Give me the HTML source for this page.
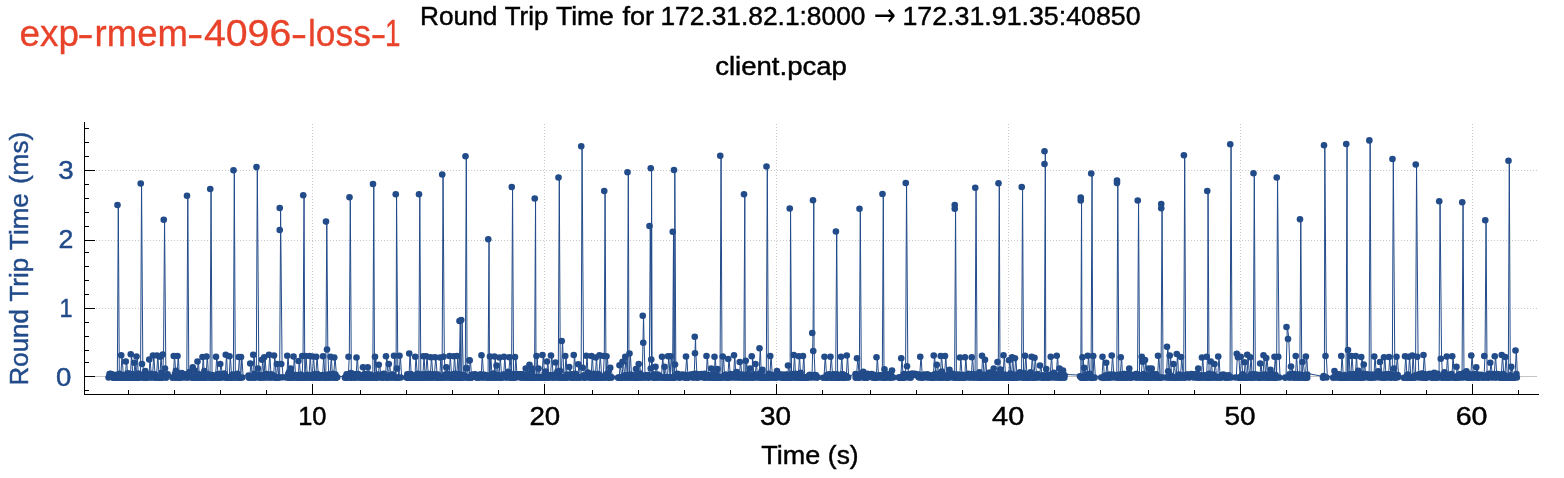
<!DOCTYPE html><html><head><meta charset="utf-8"><title>Round Trip Time</title>
<style>html,body{margin:0;padding:0;background:#fff}svg{display:block}text{font-family:"Liberation Sans",sans-serif}</style></head><body>
<svg width="1564" height="478" viewBox="0 0 1564 478">
<rect width="1564" height="478" fill="#fff"/>
<g shape-rendering="crispEdges" stroke="#c8c8c8" stroke-width="1" stroke-dasharray="1 2">
<line x1="96" y1="170.5" x2="1537" y2="170.5"/>
<line x1="96" y1="240.5" x2="1537" y2="240.5"/>
<line x1="96" y1="308.5" x2="1537" y2="308.5"/>
<line x1="312.5" y1="124" x2="312.5" y2="394"/>
<line x1="544.5" y1="124" x2="544.5" y2="394"/>
<line x1="776.5" y1="124" x2="776.5" y2="394"/>
<line x1="1008.5" y1="124" x2="1008.5" y2="394"/>
<line x1="1240.5" y1="124" x2="1240.5" y2="394"/>
<line x1="1472.5" y1="124" x2="1472.5" y2="394"/>
</g>
<line x1="95" y1="376.5" x2="1537" y2="376.5" stroke="#c4c4c4" stroke-width="1" shape-rendering="crispEdges"/>
<polyline fill="none" stroke="#224b8a" stroke-width="1" stroke-linejoin="round" points="109.40,376.56 110.34,373.14 111.22,372.91 112.08,374.51 112.97,373.25 113.85,376.73 114.79,376.51 115.61,376.38 116.55,376.42 117.30,376.62 117.36,373.89 118.30,204.00 119.30,376.69 119.72,373.71 120.51,372.81 120.75,376.49 122.05,354.25 123.35,376.72 123.69,376.70 124.49,376.47 125.25,376.54 125.41,373.86 126.55,360.50 127.85,376.60 127.93,376.72 128.73,372.40 129.58,373.05 130.25,376.73 130.38,376.63 131.55,353.25 132.85,376.55 132.99,373.03 133.74,376.40 133.75,376.74 135.05,361.75 136.00,376.72 136.35,376.58 136.38,376.55 137.30,355.50 138.23,372.85 138.60,376.71 139.03,376.67 139.89,372.91 140.55,376.58 141.55,182.50 142.80,363.00 143.80,376.42 144.26,376.36 144.75,376.70 145.06,373.44 146.05,370.00 147.35,376.66 147.45,373.34 148.22,376.49 148.75,376.50 149.09,374.20 150.05,358.50 151.35,376.37 151.52,372.87 152.40,373.74 152.50,376.52 153.80,354.50 154.94,374.05 155.10,376.59 155.69,373.39 156.50,376.36 156.52,376.42 157.80,354.50 159.01,376.54 159.10,376.73 159.75,376.41 159.90,376.35 161.05,355.75 162.35,376.63 162.44,371.80 162.55,376.69 163.55,353.50 164.55,218.75 165.80,367.50 166.80,376.70 167.59,374.26 168.39,373.40 173.25,376.63 174.55,355.00 175.80,373.01 175.85,376.42 176.70,369.82 177.00,376.68 178.30,355.00 179.24,374.54 179.60,376.52 180.12,376.56 180.94,376.75 181.75,376.27 182.52,372.14 183.34,373.12 184.18,376.51 185.00,374.25 185.83,374.55 186.66,373.22 186.80,376.49 187.80,194.75 188.80,376.60 188.94,374.14 189.83,373.99 190.64,370.83 191.44,374.03 192.25,376.37 192.25,376.53 193.55,366.25 194.85,376.72 195.00,376.63 195.84,369.75 196.67,376.54 197.00,376.73 198.30,360.50 199.24,373.27 199.60,376.67 200.15,373.51 200.97,376.57 201.88,376.65 202.00,376.48 203.30,356.00 204.34,376.47 204.60,376.58 205.15,369.97 206.00,376.62 206.10,376.71 207.30,355.50 208.60,376.52 208.61,374.18 209.45,373.39 210.05,376.57 211.05,188.00 212.05,376.63 212.15,376.33 212.96,373.93 213.85,376.63 214.65,376.31 215.50,376.43 215.52,376.55 216.80,355.75 218.10,376.47 218.11,373.42 219.06,376.51 219.75,376.65 219.98,372.95 221.05,363.00 222.32,376.26 222.35,376.52 223.18,373.93 224.11,374.13 225.01,372.46 225.25,376.54 226.55,353.75 227.55,376.68 227.85,376.40 228.34,376.45 229.00,376.46 229.22,376.74 230.30,355.25 231.60,376.63 231.71,376.65 232.62,374.49 233.30,376.36 233.39,373.61 234.30,169.25 235.30,376.70 235.82,373.86 236.62,376.27 237.44,373.96 238.25,376.58 238.27,372.81 239.55,356.00 240.50,376.69 240.78,376.75 240.85,376.45 241.80,356.00 243.10,376.55 249.33,374.44 249.75,376.73 251.05,362.50 252.35,376.48 252.66,376.49 252.75,376.44 254.05,353.75 255.21,372.86 255.35,376.52 256.00,376.28 256.30,376.40 257.30,166.00 258.80,367.50 259.80,376.62 260.32,373.48 261.23,376.36 261.50,376.47 262.80,358.75 263.75,376.52 263.78,374.27 264.10,376.51 265.05,356.25 266.25,374.38 266.35,376.57 267.05,372.98 267.81,373.24 268.50,376.41 268.57,374.39 269.80,353.75 271.10,376.37 271.18,376.54 272.04,373.41 272.88,374.56 273.50,376.56 273.76,374.18 274.80,354.50 276.10,376.48 276.41,376.51 276.50,376.73 277.80,363.00 278.79,376.53 279.10,376.47 279.55,376.49 279.64,376.43 280.55,229.00 280.55,207.00 282.05,363.00 283.05,376.35 286.75,376.42 288.05,354.75 289.09,373.13 289.35,376.64 289.88,371.23 290.25,376.60 291.55,367.50 292.53,372.92 292.85,376.48 293.00,376.74 293.30,376.37 294.30,355.50 295.60,376.57 295.81,374.34 296.66,374.23 297.47,374.03 298.00,376.68 298.22,376.67 299.30,360.00 300.60,376.70 300.98,376.36 301.75,373.45 302.05,376.73 303.05,355.00 304.05,194.25 304.75,376.70 305.05,376.44 306.05,355.00 307.35,376.65 307.87,373.89 308.78,376.25 309.00,376.59 310.30,355.00 311.37,374.28 311.60,376.40 312.25,376.72 312.27,376.34 313.55,355.50 314.85,376.57 314.89,373.41 315.70,376.73 315.75,376.53 317.05,355.75 318.19,372.99 318.35,376.40 318.97,376.42 319.72,376.57 320.50,376.64 321.36,374.23 322.24,374.36 322.50,376.42 323.80,355.25 324.75,376.43 325.10,376.40 325.68,373.88 325.80,376.64 326.80,220.60 327.80,348.50 328.80,376.58 328.97,376.43 329.81,373.28 330.00,376.61 331.30,355.75 332.30,373.87 332.60,376.40 333.10,376.36 333.75,376.37 333.85,372.91 335.05,356.50 336.29,373.45 336.35,376.69 337.20,376.60 338.02,376.31 345.76,376.63 346.52,376.38 347.41,373.32 348.21,373.82 348.30,376.68 349.30,355.75 350.30,196.25 351.30,376.66 351.65,372.11 352.58,376.62 353.38,372.90 354.28,376.31 355.09,376.30 355.97,373.40 356.00,376.66 357.30,356.50 358.60,376.56 358.68,373.06 359.51,373.57 360.33,376.44 361.09,374.34 361.85,376.29 362.50,376.51 362.67,376.74 363.80,366.25 365.10,376.64 365.19,373.27 365.95,373.95 366.87,373.00 367.25,376.75 367.63,372.95 368.55,366.25 369.85,376.58 370.13,376.73 371.05,373.46 371.97,374.08 372.74,376.37 372.80,376.60 373.80,183.00 374.50,376.37 374.80,376.52 375.80,355.75 376.73,376.39 377.10,376.47 377.55,376.27 378.25,376.54 378.40,373.49 379.55,363.75 380.83,373.98 380.85,376.50 381.72,374.21 382.64,376.34 383.43,376.65 384.33,372.79 385.18,373.17 385.50,376.48 386.80,355.25 388.10,376.73 388.25,376.39 388.55,376.28 389.55,363.00 390.85,376.44 391.04,374.40 391.92,376.36 392.81,373.47 393.50,376.40 393.63,373.89 394.80,354.75 395.55,376.59 396.10,376.43 396.55,193.25 397.80,367.50 398.80,376.59 399.00,376.71 400.30,354.75 401.60,376.50 407.31,376.59 408.09,373.41 408.75,376.73 408.99,376.53 410.05,352.50 411.35,376.72 411.53,373.01 412.33,376.60 413.22,374.32 414.00,376.59 414.75,376.67 414.86,376.59 416.05,355.75 417.35,376.69 417.49,376.27 418.26,372.83 418.80,376.61 419.80,193.25 420.80,376.73 420.90,376.43 421.67,376.56 422.43,373.18 422.75,376.75 424.05,355.25 425.04,374.34 425.35,376.69 425.75,376.71 425.91,373.27 427.05,355.25 428.35,376.60 428.55,373.84 429.34,373.02 430.25,373.07 430.25,376.74 431.55,356.25 432.85,376.40 432.85,376.44 433.62,373.19 434.50,376.50 434.51,374.15 435.80,356.25 437.06,373.38 437.10,376.69 438.00,376.42 438.91,373.72 439.50,376.65 439.85,376.48 440.80,356.50 442.05,376.60 442.10,376.61 443.05,173.50 444.30,355.75 445.30,376.70 445.75,376.41 445.82,373.68 447.05,366.25 448.35,376.35 448.47,372.89 449.00,376.56 449.26,373.89 450.30,355.00 451.60,376.56 451.89,376.72 452.69,374.58 453.25,376.72 453.53,373.34 454.55,355.25 455.85,376.71 455.94,372.91 456.50,376.61 456.80,376.35 457.80,355.00 459.00,376.42 459.10,376.64 459.20,373.14 460.30,320.00 460.75,376.74 461.60,376.69 462.05,319.00 463.35,376.37 463.52,376.43 464.43,373.76 465.24,374.37 465.30,376.54 466.30,155.25 467.05,367.50 467.30,367.00 468.30,376.69 468.70,376.62 469.00,376.53 470.30,359.50 470.30,359.25 471.60,376.74 471.97,376.63 472.78,373.83 473.66,373.95 474.59,374.50 475.51,373.19 476.29,373.46 477.04,376.27 477.92,376.70 478.70,376.36 479.52,376.30 480.43,376.30 481.00,376.54 481.30,373.40 482.30,354.25 483.60,376.36 484.05,376.40 484.91,373.81 485.84,374.12 486.63,376.50 487.39,374.34 488.05,376.40 489.05,238.25 489.50,376.65 490.05,376.47 490.80,355.50 492.10,376.60 492.54,373.59 493.42,373.93 494.00,376.68 494.26,372.56 495.30,355.50 496.00,376.54 496.60,376.44 497.30,364.50 498.53,374.01 498.60,376.44 499.00,376.62 500.30,356.50 501.60,376.66 502.10,376.39 502.98,376.32 503.50,376.43 503.80,373.65 504.80,355.75 506.10,376.36 506.33,373.60 507.25,376.34 508.08,374.11 508.75,376.41 508.93,370.71 510.05,356.25 511.35,376.43 511.47,376.46 511.55,376.42 512.55,186.00 513.55,376.45 514.01,373.01 514.50,376.66 514.87,376.60 515.80,356.00 517.10,376.54 517.34,373.42 518.25,373.50 519.12,373.35 519.99,374.22 520.88,373.23 521.65,376.73 522.55,373.42 523.38,373.18 524.24,376.60 525.07,376.53 525.25,376.61 526.55,367.50 527.65,374.53 527.85,376.74 528.42,373.56 529.00,376.74 529.36,374.57 530.30,363.75 531.60,376.64 531.75,376.65 531.99,371.28 533.05,367.50 534.35,376.47 534.47,376.67 534.55,376.37 535.55,197.50 536.00,376.38 536.55,376.57 537.30,355.00 538.00,376.37 538.60,376.35 539.30,367.50 540.27,376.74 540.60,376.60 541.17,376.38 541.95,376.36 542.00,376.66 543.30,354.00 544.60,376.66 544.66,376.44 545.55,372.92 546.36,370.50 546.50,376.67 547.80,360.50 548.74,374.46 549.10,376.67 549.55,374.30 550.48,374.49 550.50,376.50 551.80,354.50 553.00,374.34 553.10,376.39 553.91,376.43 554.79,373.91 555.00,376.41 556.30,361.50 557.54,374.07 557.60,376.56 558.30,376.49 558.30,370.55 559.30,176.50 560.30,376.43 560.91,370.14 561.25,376.72 562.55,340.00 563.85,376.49 564.35,376.41 564.75,376.39 566.05,355.00 567.06,376.75 567.35,376.44 567.86,373.54 568.75,376.45 568.78,374.52 570.05,366.00 571.35,376.56 571.53,374.11 572.45,373.37 573.25,376.68 573.38,376.71 574.55,354.00 575.85,376.43 575.94,372.92 576.74,373.38 577.58,376.62 577.75,376.62 579.05,363.25 580.23,376.35 580.35,376.43 581.05,376.36 581.14,376.46 582.05,145.25 583.55,366.75 584.55,376.59 584.69,374.26 585.48,376.40 585.75,376.59 587.05,354.75 588.00,374.33 588.35,376.37 588.76,371.60 589.53,373.18 590.31,373.98 591.00,376.46 591.16,376.73 592.30,355.00 593.60,376.68 593.88,374.13 594.79,372.90 595.25,376.70 596.55,356.50 597.55,376.73 597.85,376.69 598.34,376.71 599.00,376.39 599.10,373.03 600.30,354.25 601.60,376.43 601.81,376.45 602.64,376.27 603.30,376.69 604.30,355.00 605.05,190.00 606.00,376.36 606.05,376.42 606.12,373.89 607.30,355.25 608.60,376.49 608.69,372.09 609.45,376.57 609.75,376.61 611.05,366.75 612.23,376.36 612.35,376.53 619.00,376.70 619.21,376.45 620.30,364.25 621.60,376.74 621.70,376.69 622.00,376.36 623.30,360.75 624.60,376.49 624.75,376.54 624.90,374.58 626.05,355.75 627.30,376.58 627.34,374.20 627.35,376.38 628.30,171.25 629.00,376.42 629.20,374.35 629.30,376.40 630.30,352.50 631.60,376.67 631.75,373.47 632.59,376.34 633.43,374.34 634.23,376.39 635.09,376.31 635.50,376.65 635.89,374.32 636.80,368.00 638.10,376.63 638.25,376.65 638.43,376.50 639.55,363.00 640.85,376.52 640.95,372.62 641.88,374.22 642.25,376.65 643.55,314.75 644.05,341.75 645.12,376.25 645.35,376.58 646.07,374.42 646.88,374.50 647.77,376.26 648.53,373.99 649.30,376.70 649.31,376.33 650.30,225.00 651.55,367.50 651.55,167.25 652.05,358.50 653.05,376.39 653.51,374.35 654.30,373.32 655.00,376.61 655.09,376.71 656.30,365.75 657.60,376.57 657.61,376.44 658.50,373.55 659.29,376.38 660.13,374.50 661.04,376.33 661.50,376.52 662.80,355.75 664.00,376.58 664.10,376.39 665.30,365.75 666.26,376.66 666.60,376.38 667.18,376.67 667.50,376.55 668.80,355.25 670.00,376.54 670.10,376.54 671.30,355.25 672.55,376.57 672.60,376.74 673.55,230.75 673.80,376.75 674.55,376.68 674.80,169.00 675.80,363.50 676.80,376.43 677.38,373.25 678.14,372.88 678.99,373.65 679.85,376.27 680.64,376.70 681.44,374.55 682.21,374.25 682.97,373.56 683.82,374.41 684.75,374.52 685.50,376.68 685.52,373.70 686.80,355.50 687.93,376.45 688.10,376.56 688.85,376.46 689.75,376.34 690.69,373.84 691.61,373.89 692.55,373.99 693.34,376.53 694.25,376.46 694.29,372.96 695.55,335.75 695.80,352.25 696.88,372.88 697.10,376.53 697.82,376.54 698.70,376.48 699.46,373.69 700.22,376.27 701.12,373.46 702.03,373.01 702.79,374.12 703.68,376.48 704.61,374.15 705.46,372.89 706.00,376.62 706.27,376.43 707.30,355.00 708.60,376.54 708.86,374.12 709.70,374.33 710.47,376.60 710.75,376.53 712.05,367.50 713.35,376.44 713.68,373.09 714.00,376.71 715.30,355.75 716.30,376.39 716.60,376.53 717.00,376.65 717.14,373.50 718.30,368.00 719.59,376.49 719.60,376.64 720.05,376.44 721.05,154.75 722.04,376.32 722.05,376.55 722.25,376.53 723.55,355.50 724.55,376.26 724.85,376.45 725.35,374.31 726.12,373.81 726.88,373.81 727.75,376.39 727.78,376.64 729.05,358.00 730.35,376.57 730.40,376.57 731.28,373.07 732.20,373.27 733.10,373.74 733.50,376.50 734.80,354.25 735.83,376.31 736.10,376.55 736.58,373.55 737.43,370.97 738.26,373.03 739.13,376.52 739.25,376.55 740.55,361.00 741.68,373.60 741.85,376.47 742.50,376.36 743.42,373.80 743.80,376.57 744.80,193.25 745.25,376.56 745.80,376.54 746.55,359.75 747.53,376.29 747.85,376.37 748.35,373.09 749.29,376.54 749.50,376.47 750.80,367.50 751.25,376.37 752.10,376.40 752.55,355.25 753.85,376.65 754.38,373.63 755.00,376.53 755.33,373.67 756.30,363.00 757.60,376.37 757.87,373.97 758.81,373.65 759.00,376.41 760.30,347.25 761.23,373.57 761.60,376.70 762.00,376.70 762.16,371.24 763.30,368.75 764.60,376.57 764.82,376.48 765.73,376.59 766.30,376.72 767.30,165.50 768.30,376.65 768.44,376.30 769.33,372.82 769.75,376.72 771.05,355.00 772.35,376.48 772.68,373.69 773.47,376.43 774.34,376.25 775.22,376.54 776.13,376.40 776.50,376.44 776.88,376.33 777.80,370.00 779.10,376.39 779.42,373.60 780.22,373.64 781.17,373.86 781.94,376.37 782.72,376.66 783.57,373.50 784.48,376.74 785.39,376.39 786.21,376.62 786.98,373.55 787.50,376.69 787.80,373.91 788.80,364.50 789.55,376.49 790.10,376.46 790.55,207.50 791.55,376.69 792.13,374.15 792.89,373.06 793.25,376.40 794.55,354.00 795.55,376.45 795.85,376.36 796.49,372.89 797.29,373.31 798.08,376.31 798.25,376.66 799.55,355.25 800.64,376.57 800.85,376.37 801.42,371.87 802.29,376.48 802.50,376.59 803.80,355.00 804.71,376.34 805.10,376.56 805.53,376.65 806.33,376.73 807.22,376.67 808.11,376.62 809.02,376.53 809.94,374.31 810.76,373.92 811.70,376.27 812.05,376.35 813.05,332.00 813.80,199.25 814.05,350.00 814.97,374.13 815.05,376.42 815.90,373.94 816.70,374.22 817.62,376.49 818.48,376.36 824.00,376.69 825.30,355.75 826.60,376.58 826.86,376.47 827.68,374.07 828.45,376.64 829.22,374.09 830.00,376.54 830.05,373.21 831.30,355.75 832.60,376.61 832.68,376.74 833.56,373.97 834.40,373.34 835.20,373.97 835.70,376.67 836.70,230.50 837.63,373.28 837.70,376.62 838.52,376.73 839.31,376.60 840.13,376.59 840.50,376.46 841.80,355.75 842.71,373.31 843.10,376.74 843.51,373.37 844.33,376.33 845.24,376.73 846.16,374.51 846.25,376.53 847.55,354.50 848.64,376.29 848.85,376.57 856.35,372.93 856.50,376.74 857.80,357.25 859.05,373.78 859.10,376.62 859.30,376.50 860.30,207.75 861.30,376.55 861.54,372.93 862.32,374.52 863.21,374.13 864.07,370.76 864.93,376.72 865.75,374.24 866.56,376.40 867.44,376.63 868.30,372.92 869.12,376.31 869.89,374.00 870.81,373.23 871.59,373.52 872.43,373.10 873.21,376.57 874.00,376.61 874.79,373.79 875.56,376.52 876.00,376.72 876.38,376.71 877.30,356.25 878.60,376.36 878.98,376.39 879.93,374.40 880.78,374.26 881.64,376.29 882.30,376.43 883.30,193.00 884.00,376.71 884.30,376.36 884.33,374.15 885.30,368.25 886.60,376.64 886.66,373.09 887.47,376.43 888.39,374.30 889.30,373.26 890.11,376.34 890.92,376.47 891.50,376.73 891.75,374.17 892.80,369.50 894.10,376.44 899.62,376.60 900.49,376.41 900.75,376.64 902.05,357.25 903.05,376.73 903.35,376.70 903.89,376.39 904.64,373.06 905.55,374.09 905.55,376.58 906.55,182.00 907.80,365.25 908.80,376.39 908.93,373.40 909.85,374.30 910.66,373.59 911.48,376.71 912.29,372.85 913.22,372.85 914.17,373.14 914.93,373.50 915.74,372.88 916.58,374.06 917.40,374.55 918.19,373.79 918.96,373.93 919.75,376.42 919.82,373.65 921.05,355.75 922.29,376.31 922.35,376.65 923.15,376.32 923.95,376.48 924.75,373.60 925.55,374.40 926.40,374.46 927.23,376.53 928.15,373.31 929.05,376.25 929.95,376.33 930.78,376.27 931.64,374.35 932.54,376.63 933.25,376.69 933.37,376.45 934.55,354.50 935.85,376.38 935.86,373.00 936.25,376.52 937.55,363.75 938.52,373.03 938.85,376.47 939.31,373.99 940.21,373.11 940.25,376.71 941.55,355.00 942.71,370.49 942.85,376.73 943.47,374.42 944.33,374.40 944.50,376.47 945.80,355.00 946.95,376.53 947.10,376.58 947.86,374.40 948.62,376.35 949.00,376.72 950.30,368.75 951.60,376.37 951.96,374.34 952.89,373.36 953.80,372.76 954.55,376.50 954.62,376.50 955.55,207.75 955.55,204.00 956.45,376.66 956.55,376.43 957.36,373.89 958.21,376.33 959.04,373.50 959.50,376.72 959.80,376.64 960.80,356.50 962.10,376.41 962.36,376.57 963.20,373.90 964.02,376.46 964.50,376.72 964.84,376.52 965.80,356.25 967.10,376.40 967.33,374.11 968.13,374.13 968.99,372.88 969.94,376.47 970.85,373.21 971.25,376.57 972.55,356.25 973.85,376.61 974.23,373.03 975.05,376.53 976.05,186.75 977.05,376.38 977.77,373.68 978.64,376.47 979.48,376.58 980.29,371.26 981.11,376.63 981.50,376.64 982.80,354.75 984.10,376.70 984.39,373.80 984.50,376.54 985.80,358.75 986.84,376.60 987.10,376.65 987.66,373.61 988.59,376.29 989.46,376.66 990.33,371.66 991.23,373.04 991.99,372.98 992.80,376.74 993.25,376.71 993.58,376.40 994.55,367.50 995.85,376.69 996.00,373.04 996.88,376.38 997.30,376.73 998.30,361.00 999.30,182.25 1000.00,376.63 1000.30,376.67 1000.37,373.99 1001.30,368.50 1002.60,376.63 1002.79,373.45 1003.00,376.45 1004.30,354.25 1005.33,373.43 1005.60,376.63 1006.16,373.99 1006.92,374.52 1007.80,376.50 1008.50,376.55 1008.67,376.52 1009.80,359.25 1011.10,376.68 1011.22,372.62 1011.50,376.61 1012.80,356.25 1013.80,376.67 1014.10,376.74 1014.50,376.65 1014.58,374.44 1015.80,357.25 1017.10,376.74 1017.19,373.60 1018.07,374.00 1018.97,376.39 1019.87,374.04 1020.77,371.35 1021.55,376.46 1021.58,372.91 1022.55,186.00 1023.55,376.53 1023.95,373.21 1024.50,376.67 1024.77,372.07 1025.80,354.75 1027.10,376.56 1027.20,376.72 1028.05,374.27 1028.99,376.68 1029.77,372.94 1030.56,376.36 1031.00,376.38 1031.35,371.20 1032.30,355.75 1033.60,376.71 1033.96,374.02 1034.00,376.42 1035.30,356.75 1036.56,376.43 1036.60,376.58 1037.39,374.49 1038.25,372.95 1039.19,374.20 1039.50,376.55 1040.80,364.50 1042.10,376.42 1042.43,376.37 1043.31,376.25 1044.10,374.32 1044.30,376.59 1045.30,163.00 1045.30,150.25 1045.75,376.47 1046.30,376.55 1047.05,368.00 1048.35,376.36 1048.56,376.58 1049.41,374.31 1050.25,376.61 1050.30,373.78 1051.55,355.75 1052.85,376.42 1052.88,373.95 1053.79,374.27 1054.71,371.85 1055.47,376.26 1056.22,374.33 1056.25,376.47 1057.55,354.75 1058.67,374.44 1058.85,376.50 1059.00,376.59 1060.30,367.50 1061.31,372.84 1061.60,376.61 1062.07,376.35 1062.50,376.73 1063.80,369.50 1065.10,376.70 1065.36,374.41 1080.80,375.20 1081.55,199.50 1081.55,196.50 1082.00,376.45 1082.55,376.72 1083.30,356.25 1083.75,376.68 1084.60,376.65 1085.05,366.75 1086.35,376.72 1086.39,376.73 1087.24,373.60 1087.25,376.41 1088.55,354.75 1089.70,373.62 1089.85,376.40 1090.56,372.83 1091.05,376.48 1092.05,172.50 1092.75,376.65 1093.05,376.64 1094.05,355.00 1095.35,376.63 1102.00,376.57 1103.30,355.75 1104.25,376.63 1104.60,376.69 1105.04,376.33 1105.75,376.57 1105.94,374.51 1107.05,361.75 1108.35,376.64 1108.53,374.03 1109.47,376.38 1110.39,373.53 1111.25,376.37 1111.34,376.44 1112.55,354.50 1113.85,376.36 1113.96,373.65 1114.83,374.02 1115.70,374.20 1116.58,376.30 1116.80,376.53 1117.80,182.00 1117.80,179.50 1118.80,376.65 1119.17,374.20 1119.95,373.65 1120.25,376.36 1121.55,356.25 1122.57,376.66 1122.85,376.63 1123.49,373.45 1124.40,373.04 1125.16,373.10 1126.07,376.67 1126.87,376.57 1127.79,373.78 1128.55,372.81 1128.75,376.61 1130.05,367.50 1131.13,373.23 1131.35,376.75 1131.91,373.94 1132.76,376.56 1133.58,374.57 1134.37,374.50 1135.16,374.11 1135.97,376.33 1136.74,373.05 1137.53,373.17 1137.55,376.60 1138.55,199.50 1139.55,376.56 1139.99,373.94 1140.88,376.55 1141.25,376.55 1142.55,355.75 1143.30,360.75 1144.32,372.94 1144.50,376.55 1144.60,376.67 1145.80,359.00 1146.94,376.42 1147.10,376.75 1147.76,376.37 1148.25,376.64 1148.58,373.71 1149.55,367.50 1150.85,376.71 1151.17,373.77 1151.25,376.59 1152.55,367.50 1153.76,373.00 1153.85,376.73 1154.60,373.68 1155.52,373.27 1156.35,376.41 1157.21,373.21 1157.50,376.74 1158.80,354.75 1160.10,376.63 1160.45,376.71 1161.05,376.66 1162.05,207.25 1162.05,203.00 1163.05,376.52 1166.50,376.54 1167.80,345.75 1168.95,370.19 1169.10,376.45 1169.25,376.49 1170.55,354.50 1171.47,374.59 1171.85,376.46 1172.42,376.62 1173.00,376.40 1173.23,376.32 1174.30,363.00 1175.60,376.59 1175.78,376.60 1176.25,376.62 1177.55,353.00 1178.54,376.65 1178.85,376.36 1179.30,373.93 1180.14,373.55 1180.50,376.69 1181.80,356.00 1183.10,376.46 1183.60,374.51 1183.70,376.49 1184.70,154.25 1185.70,376.73 1186.10,374.02 1186.90,374.08 1187.80,373.53 1188.64,373.80 1189.56,376.53 1190.44,376.32 1191.20,374.28 1192.14,373.16 1192.99,373.39 1193.80,376.33 1194.58,374.23 1195.35,376.36 1196.29,373.41 1197.09,373.37 1197.75,376.42 1197.87,376.40 1199.05,367.50 1200.35,376.39 1200.35,376.46 1201.17,374.32 1201.50,376.50 1202.80,356.50 1203.83,376.35 1204.10,376.46 1204.78,374.54 1205.61,374.20 1206.46,376.52 1206.55,376.43 1207.55,355.75 1208.05,190.00 1209.05,376.69 1209.08,376.34 1209.86,372.81 1210.25,376.54 1211.55,360.50 1212.46,376.37 1212.85,376.55 1213.31,374.43 1214.00,376.42 1214.15,373.52 1215.30,363.00 1216.56,376.30 1216.60,376.43 1217.48,376.29 1217.75,376.42 1219.05,355.50 1220.05,376.28 1220.35,376.52 1220.93,376.58 1221.77,376.38 1222.55,374.06 1223.32,374.43 1224.18,373.53 1225.02,376.49 1225.79,374.36 1226.65,376.56 1227.54,376.67 1228.48,376.33 1229.40,374.33 1230.05,376.39 1231.05,143.25 1232.05,376.48 1236.25,376.47 1237.55,352.75 1238.80,356.25 1240.10,376.66 1240.13,376.69 1240.25,376.74 1241.55,355.75 1242.70,374.57 1242.85,376.70 1243.64,373.18 1244.00,376.61 1245.30,361.25 1246.60,376.71 1246.75,376.42 1247.09,376.62 1248.05,353.75 1249.35,376.53 1249.52,376.30 1249.75,376.50 1251.05,356.25 1251.95,373.19 1252.35,376.50 1252.85,376.63 1253.30,376.48 1254.30,172.25 1255.30,376.55 1255.42,373.35 1256.33,376.34 1257.18,374.58 1258.11,373.87 1258.88,376.38 1259.75,376.75 1259.77,376.58 1261.05,362.50 1262.13,376.26 1262.35,376.43 1263.00,376.45 1263.08,373.74 1264.30,354.25 1265.60,376.55 1265.75,376.54 1265.77,373.45 1267.05,357.00 1268.35,374.43 1268.35,376.49 1269.24,376.67 1270.00,376.72 1270.19,373.26 1271.30,368.75 1272.60,376.46 1272.82,373.26 1273.73,373.54 1274.00,376.65 1275.30,355.75 1276.39,374.06 1276.55,376.64 1276.60,376.72 1277.55,176.50 1279.05,355.75 1280.05,376.46 1286.00,376.67 1287.30,326.00 1288.80,338.00 1290.10,376.45 1290.26,373.19 1290.50,376.36 1291.80,365.50 1292.99,373.87 1293.10,376.55 1293.76,373.09 1294.57,373.09 1295.25,376.60 1295.48,376.51 1296.55,355.00 1297.85,376.56 1297.92,373.51 1298.76,376.64 1299.58,373.49 1299.80,376.48 1300.80,218.25 1301.80,376.44 1301.96,373.80 1302.00,376.50 1303.30,361.00 1304.53,374.53 1304.60,376.49 1305.38,376.72 1305.45,376.61 1306.67,355.50 1307.97,376.69 1308.00,373.50 1323.80,376.65 1324.40,375.10 1324.80,144.25 1326.30,355.00 1327.30,376.45 1334.00,376.63 1335.30,370.00 1336.35,373.38 1336.60,376.52 1337.28,373.95 1338.22,376.33 1339.11,373.79 1340.01,373.29 1340.75,376.75 1340.91,376.59 1342.05,355.00 1343.35,376.73 1343.56,376.46 1344.42,376.55 1345.32,374.09 1346.05,376.64 1347.05,143.00 1347.50,376.47 1348.05,376.48 1348.80,349.00 1350.10,376.48 1350.55,373.38 1350.75,376.63 1352.05,355.00 1353.21,374.10 1353.35,376.54 1353.99,373.11 1354.90,376.68 1355.25,376.56 1356.55,355.00 1357.46,374.29 1357.85,376.56 1358.28,376.60 1359.10,369.72 1359.89,376.28 1360.68,376.53 1360.75,376.70 1362.05,356.00 1363.08,372.87 1363.25,376.67 1363.35,376.39 1364.55,363.50 1365.61,373.09 1365.85,376.36 1366.49,374.03 1367.27,373.75 1368.13,373.25 1368.93,376.29 1369.15,376.38 1370.15,139.40 1371.15,376.74 1371.47,376.36 1372.23,373.58 1373.05,374.12 1373.75,376.57 1373.85,376.48 1375.05,355.50 1376.35,376.42 1376.47,374.40 1377.28,372.86 1378.16,373.21 1378.99,370.42 1379.50,376.36 1379.80,373.15 1380.80,361.00 1382.10,376.57 1382.34,373.66 1383.22,374.36 1383.50,376.64 1384.80,356.25 1386.10,376.67 1386.48,373.40 1387.35,373.57 1388.15,373.18 1388.50,376.37 1389.80,356.00 1390.74,373.70 1391.10,376.67 1391.67,373.26 1392.30,376.52 1393.30,158.00 1394.80,367.50 1395.80,376.69 1396.00,376.54 1396.05,373.50 1397.30,355.75 1398.49,374.11 1398.60,376.37 1404.50,376.70 1405.80,355.25 1406.98,376.75 1407.10,376.42 1407.86,376.61 1408.25,376.55 1408.62,373.60 1409.55,355.75 1410.85,376.40 1411.21,376.64 1411.75,376.47 1412.08,376.58 1413.05,354.50 1414.35,376.66 1414.65,376.33 1415.55,376.39 1415.56,374.55 1416.55,163.50 1418.05,355.75 1419.05,376.56 1419.67,373.30 1420.54,373.68 1421.40,376.32 1422.35,372.87 1423.00,376.74 1423.17,372.57 1424.30,354.00 1425.60,376.75 1425.63,373.32 1426.47,376.66 1427.30,376.65 1428.20,373.81 1428.99,374.25 1429.79,373.34 1430.74,372.89 1431.67,373.30 1432.43,376.74 1433.36,373.47 1434.16,376.67 1435.04,371.82 1435.79,376.57 1436.72,373.78 1437.50,376.67 1438.40,372.82 1439.05,376.55 1440.05,200.25 1441.55,357.75 1442.55,376.57 1442.78,376.47 1443.63,376.62 1444.38,373.32 1445.32,371.40 1446.22,373.14 1446.25,376.63 1447.55,355.50 1448.67,376.46 1448.85,376.69 1449.49,376.33 1450.40,374.52 1451.33,374.47 1451.75,376.61 1452.14,373.01 1453.05,355.25 1454.35,376.62 1454.66,376.30 1455.48,376.45 1456.00,376.41 1456.26,376.52 1457.30,365.75 1458.60,376.75 1458.90,374.48 1459.79,376.51 1460.62,373.32 1461.42,373.35 1462.05,376.45 1463.05,201.25 1463.97,374.49 1464.05,376.41 1464.77,372.07 1465.60,373.12 1466.48,374.53 1467.24,370.23 1468.00,376.63 1468.94,376.41 1469.87,372.95 1470.68,376.74 1470.75,376.70 1472.05,354.50 1473.29,374.26 1473.35,376.38 1474.21,376.49 1474.98,373.00 1475.75,376.46 1475.91,376.32 1477.05,366.25 1478.35,376.39 1478.54,373.53 1479.45,376.72 1480.30,376.55 1481.06,374.56 1481.97,373.78 1482.75,374.23 1483.58,376.26 1484.05,376.63 1485.05,355.00 1486.05,219.25 1487.05,376.60 1487.85,374.42 1488.67,376.37 1489.45,372.84 1489.75,376.59 1491.05,361.75 1492.35,376.35 1492.64,373.52 1493.50,373.87 1494.25,376.51 1494.37,372.95 1495.55,355.25 1496.85,376.61 1497.11,373.31 1497.86,373.07 1498.70,374.28 1499.64,373.33 1500.44,376.58 1501.25,376.58 1501.25,376.53 1502.55,354.00 1503.85,376.64 1504.02,373.09 1504.75,376.73 1504.97,374.11 1506.05,356.00 1507.35,376.71 1507.35,376.31 1508.29,376.36 1508.30,376.42 1509.30,159.75 1510.30,376.64 1510.75,376.38 1511.03,374.41 1512.05,365.75 1513.35,376.65 1513.63,376.48 1514.57,376.48 1515.00,376.64 1516.30,349.50 1517.25,372.96 1517.60,376.55"/>
<g fill="#224b8a">
<circle cx="108.60" cy="377.56" r="3.3"/>
<circle cx="109.54" cy="374.14" r="3.3"/>
<circle cx="110.42" cy="373.91" r="3.3"/>
<circle cx="111.28" cy="375.51" r="3.3"/>
<circle cx="112.17" cy="374.25" r="3.3"/>
<circle cx="113.05" cy="377.73" r="3.3"/>
<circle cx="113.99" cy="377.51" r="3.3"/>
<circle cx="114.81" cy="377.38" r="3.3"/>
<circle cx="115.75" cy="377.42" r="3.3"/>
<circle cx="116.50" cy="377.62" r="3.3"/>
<circle cx="116.56" cy="374.89" r="3.3"/>
<circle cx="117.50" cy="205.00" r="3.3"/>
<circle cx="118.50" cy="377.69" r="3.3"/>
<circle cx="118.92" cy="374.71" r="3.3"/>
<circle cx="119.71" cy="373.81" r="3.3"/>
<circle cx="119.95" cy="377.49" r="3.3"/>
<circle cx="121.25" cy="355.25" r="3.3"/>
<circle cx="122.55" cy="377.72" r="3.3"/>
<circle cx="122.89" cy="377.70" r="3.3"/>
<circle cx="123.69" cy="377.47" r="3.3"/>
<circle cx="124.45" cy="377.54" r="3.3"/>
<circle cx="124.61" cy="374.86" r="3.3"/>
<circle cx="125.75" cy="361.50" r="3.3"/>
<circle cx="127.05" cy="377.60" r="3.3"/>
<circle cx="127.13" cy="377.72" r="3.3"/>
<circle cx="127.93" cy="373.40" r="3.3"/>
<circle cx="128.78" cy="374.05" r="3.3"/>
<circle cx="129.45" cy="377.73" r="3.3"/>
<circle cx="129.58" cy="377.63" r="3.3"/>
<circle cx="130.75" cy="354.25" r="3.3"/>
<circle cx="132.05" cy="377.55" r="3.3"/>
<circle cx="132.19" cy="374.03" r="3.3"/>
<circle cx="132.94" cy="377.40" r="3.3"/>
<circle cx="132.95" cy="377.74" r="3.3"/>
<circle cx="134.25" cy="362.75" r="3.3"/>
<circle cx="135.20" cy="377.72" r="3.3"/>
<circle cx="135.55" cy="377.58" r="3.3"/>
<circle cx="135.58" cy="377.55" r="3.3"/>
<circle cx="136.50" cy="356.50" r="3.3"/>
<circle cx="137.43" cy="373.85" r="3.3"/>
<circle cx="137.80" cy="377.71" r="3.3"/>
<circle cx="138.23" cy="377.67" r="3.3"/>
<circle cx="139.09" cy="373.91" r="3.3"/>
<circle cx="139.75" cy="377.58" r="3.3"/>
<circle cx="140.75" cy="183.50" r="3.3"/>
<circle cx="142.00" cy="364.00" r="3.3"/>
<circle cx="143.00" cy="377.42" r="3.3"/>
<circle cx="143.46" cy="377.36" r="3.3"/>
<circle cx="143.95" cy="377.70" r="3.3"/>
<circle cx="144.26" cy="374.44" r="3.3"/>
<circle cx="145.25" cy="371.00" r="3.3"/>
<circle cx="146.55" cy="377.66" r="3.3"/>
<circle cx="146.65" cy="374.34" r="3.3"/>
<circle cx="147.42" cy="377.49" r="3.3"/>
<circle cx="147.95" cy="377.50" r="3.3"/>
<circle cx="148.29" cy="375.20" r="3.3"/>
<circle cx="149.25" cy="359.50" r="3.3"/>
<circle cx="150.55" cy="377.37" r="3.3"/>
<circle cx="150.72" cy="373.87" r="3.3"/>
<circle cx="151.60" cy="374.74" r="3.3"/>
<circle cx="151.70" cy="377.52" r="3.3"/>
<circle cx="153.00" cy="355.50" r="3.3"/>
<circle cx="154.14" cy="375.05" r="3.3"/>
<circle cx="154.30" cy="377.59" r="3.3"/>
<circle cx="154.89" cy="374.39" r="3.3"/>
<circle cx="155.70" cy="377.36" r="3.3"/>
<circle cx="155.72" cy="377.42" r="3.3"/>
<circle cx="157.00" cy="355.50" r="3.3"/>
<circle cx="158.21" cy="377.54" r="3.3"/>
<circle cx="158.30" cy="377.73" r="3.3"/>
<circle cx="158.95" cy="377.41" r="3.3"/>
<circle cx="159.10" cy="377.35" r="3.3"/>
<circle cx="160.25" cy="356.75" r="3.3"/>
<circle cx="161.55" cy="377.63" r="3.3"/>
<circle cx="161.64" cy="372.80" r="3.3"/>
<circle cx="161.75" cy="377.69" r="3.3"/>
<circle cx="162.75" cy="354.50" r="3.3"/>
<circle cx="163.75" cy="219.75" r="3.3"/>
<circle cx="165.00" cy="368.50" r="3.3"/>
<circle cx="166.00" cy="377.70" r="3.3"/>
<circle cx="166.79" cy="375.26" r="3.3"/>
<circle cx="167.59" cy="374.40" r="3.3"/>
<circle cx="172.45" cy="377.63" r="3.3"/>
<circle cx="173.75" cy="356.00" r="3.3"/>
<circle cx="175.00" cy="374.01" r="3.3"/>
<circle cx="175.05" cy="377.42" r="3.3"/>
<circle cx="175.90" cy="370.82" r="3.3"/>
<circle cx="176.20" cy="377.68" r="3.3"/>
<circle cx="177.50" cy="356.00" r="3.3"/>
<circle cx="178.44" cy="375.54" r="3.3"/>
<circle cx="178.80" cy="377.52" r="3.3"/>
<circle cx="179.32" cy="377.56" r="3.3"/>
<circle cx="180.14" cy="377.75" r="3.3"/>
<circle cx="180.95" cy="377.27" r="3.3"/>
<circle cx="181.72" cy="373.14" r="3.3"/>
<circle cx="182.54" cy="374.12" r="3.3"/>
<circle cx="183.38" cy="377.51" r="3.3"/>
<circle cx="184.20" cy="375.25" r="3.3"/>
<circle cx="185.03" cy="375.55" r="3.3"/>
<circle cx="185.86" cy="374.22" r="3.3"/>
<circle cx="186.00" cy="377.49" r="3.3"/>
<circle cx="187.00" cy="195.75" r="3.3"/>
<circle cx="188.00" cy="377.60" r="3.3"/>
<circle cx="188.14" cy="375.14" r="3.3"/>
<circle cx="189.03" cy="374.99" r="3.3"/>
<circle cx="189.84" cy="371.83" r="3.3"/>
<circle cx="190.64" cy="375.03" r="3.3"/>
<circle cx="191.45" cy="377.37" r="3.3"/>
<circle cx="191.45" cy="377.53" r="3.3"/>
<circle cx="192.75" cy="367.25" r="3.3"/>
<circle cx="194.05" cy="377.72" r="3.3"/>
<circle cx="194.20" cy="377.63" r="3.3"/>
<circle cx="195.04" cy="370.75" r="3.3"/>
<circle cx="195.87" cy="377.54" r="3.3"/>
<circle cx="196.20" cy="377.73" r="3.3"/>
<circle cx="197.50" cy="361.50" r="3.3"/>
<circle cx="198.44" cy="374.27" r="3.3"/>
<circle cx="198.80" cy="377.67" r="3.3"/>
<circle cx="199.35" cy="374.51" r="3.3"/>
<circle cx="200.17" cy="377.57" r="3.3"/>
<circle cx="201.08" cy="377.65" r="3.3"/>
<circle cx="201.20" cy="377.48" r="3.3"/>
<circle cx="202.50" cy="357.00" r="3.3"/>
<circle cx="203.54" cy="377.47" r="3.3"/>
<circle cx="203.80" cy="377.58" r="3.3"/>
<circle cx="204.35" cy="370.97" r="3.3"/>
<circle cx="205.20" cy="377.62" r="3.3"/>
<circle cx="205.30" cy="377.71" r="3.3"/>
<circle cx="206.50" cy="356.50" r="3.3"/>
<circle cx="207.80" cy="377.52" r="3.3"/>
<circle cx="207.81" cy="375.18" r="3.3"/>
<circle cx="208.65" cy="374.39" r="3.3"/>
<circle cx="209.25" cy="377.57" r="3.3"/>
<circle cx="210.25" cy="189.00" r="3.3"/>
<circle cx="211.25" cy="377.63" r="3.3"/>
<circle cx="211.35" cy="377.33" r="3.3"/>
<circle cx="212.16" cy="374.93" r="3.3"/>
<circle cx="213.05" cy="377.63" r="3.3"/>
<circle cx="213.85" cy="377.31" r="3.3"/>
<circle cx="214.70" cy="377.43" r="3.3"/>
<circle cx="214.72" cy="377.55" r="3.3"/>
<circle cx="216.00" cy="356.75" r="3.3"/>
<circle cx="217.30" cy="377.47" r="3.3"/>
<circle cx="217.31" cy="374.42" r="3.3"/>
<circle cx="218.26" cy="377.51" r="3.3"/>
<circle cx="218.95" cy="377.65" r="3.3"/>
<circle cx="219.18" cy="373.95" r="3.3"/>
<circle cx="220.25" cy="364.00" r="3.3"/>
<circle cx="221.52" cy="377.26" r="3.3"/>
<circle cx="221.55" cy="377.52" r="3.3"/>
<circle cx="222.38" cy="374.93" r="3.3"/>
<circle cx="223.31" cy="375.13" r="3.3"/>
<circle cx="224.21" cy="373.46" r="3.3"/>
<circle cx="224.45" cy="377.54" r="3.3"/>
<circle cx="225.75" cy="354.75" r="3.3"/>
<circle cx="226.75" cy="377.68" r="3.3"/>
<circle cx="227.05" cy="377.40" r="3.3"/>
<circle cx="227.54" cy="377.45" r="3.3"/>
<circle cx="228.20" cy="377.46" r="3.3"/>
<circle cx="228.42" cy="377.74" r="3.3"/>
<circle cx="229.50" cy="356.25" r="3.3"/>
<circle cx="230.80" cy="377.63" r="3.3"/>
<circle cx="230.91" cy="377.65" r="3.3"/>
<circle cx="231.82" cy="375.49" r="3.3"/>
<circle cx="232.50" cy="377.36" r="3.3"/>
<circle cx="232.59" cy="374.61" r="3.3"/>
<circle cx="233.50" cy="170.25" r="3.3"/>
<circle cx="234.50" cy="377.70" r="3.3"/>
<circle cx="235.02" cy="374.86" r="3.3"/>
<circle cx="235.82" cy="377.27" r="3.3"/>
<circle cx="236.64" cy="374.96" r="3.3"/>
<circle cx="237.45" cy="377.58" r="3.3"/>
<circle cx="237.47" cy="373.81" r="3.3"/>
<circle cx="238.75" cy="357.00" r="3.3"/>
<circle cx="239.70" cy="377.69" r="3.3"/>
<circle cx="239.98" cy="377.75" r="3.3"/>
<circle cx="240.05" cy="377.45" r="3.3"/>
<circle cx="241.00" cy="357.00" r="3.3"/>
<circle cx="242.30" cy="377.55" r="3.3"/>
<circle cx="248.53" cy="375.44" r="3.3"/>
<circle cx="248.95" cy="377.73" r="3.3"/>
<circle cx="250.25" cy="363.50" r="3.3"/>
<circle cx="251.55" cy="377.48" r="3.3"/>
<circle cx="251.86" cy="377.49" r="3.3"/>
<circle cx="251.95" cy="377.44" r="3.3"/>
<circle cx="253.25" cy="354.75" r="3.3"/>
<circle cx="254.41" cy="373.86" r="3.3"/>
<circle cx="254.55" cy="377.52" r="3.3"/>
<circle cx="255.20" cy="377.28" r="3.3"/>
<circle cx="255.50" cy="377.40" r="3.3"/>
<circle cx="256.50" cy="167.00" r="3.3"/>
<circle cx="258.00" cy="368.50" r="3.3"/>
<circle cx="259.00" cy="377.62" r="3.3"/>
<circle cx="259.52" cy="374.48" r="3.3"/>
<circle cx="260.43" cy="377.36" r="3.3"/>
<circle cx="260.70" cy="377.47" r="3.3"/>
<circle cx="262.00" cy="359.75" r="3.3"/>
<circle cx="262.95" cy="377.52" r="3.3"/>
<circle cx="262.98" cy="375.27" r="3.3"/>
<circle cx="263.30" cy="377.51" r="3.3"/>
<circle cx="264.25" cy="357.25" r="3.3"/>
<circle cx="265.45" cy="375.38" r="3.3"/>
<circle cx="265.55" cy="377.57" r="3.3"/>
<circle cx="266.25" cy="373.98" r="3.3"/>
<circle cx="267.01" cy="374.24" r="3.3"/>
<circle cx="267.70" cy="377.41" r="3.3"/>
<circle cx="267.77" cy="375.39" r="3.3"/>
<circle cx="269.00" cy="354.75" r="3.3"/>
<circle cx="270.30" cy="377.37" r="3.3"/>
<circle cx="270.38" cy="377.54" r="3.3"/>
<circle cx="271.24" cy="374.41" r="3.3"/>
<circle cx="272.08" cy="375.56" r="3.3"/>
<circle cx="272.70" cy="377.56" r="3.3"/>
<circle cx="272.96" cy="375.18" r="3.3"/>
<circle cx="274.00" cy="355.50" r="3.3"/>
<circle cx="275.30" cy="377.48" r="3.3"/>
<circle cx="275.61" cy="377.51" r="3.3"/>
<circle cx="275.70" cy="377.73" r="3.3"/>
<circle cx="277.00" cy="364.00" r="3.3"/>
<circle cx="277.99" cy="377.53" r="3.3"/>
<circle cx="278.30" cy="377.47" r="3.3"/>
<circle cx="278.75" cy="377.49" r="3.3"/>
<circle cx="278.84" cy="377.43" r="3.3"/>
<circle cx="279.75" cy="230.00" r="3.3"/>
<circle cx="279.75" cy="208.00" r="3.3"/>
<circle cx="281.25" cy="364.00" r="3.3"/>
<circle cx="282.25" cy="377.35" r="3.3"/>
<circle cx="285.95" cy="377.42" r="3.3"/>
<circle cx="287.25" cy="355.75" r="3.3"/>
<circle cx="288.29" cy="374.13" r="3.3"/>
<circle cx="288.55" cy="377.64" r="3.3"/>
<circle cx="289.08" cy="372.23" r="3.3"/>
<circle cx="289.45" cy="377.60" r="3.3"/>
<circle cx="290.75" cy="368.50" r="3.3"/>
<circle cx="291.73" cy="373.92" r="3.3"/>
<circle cx="292.05" cy="377.48" r="3.3"/>
<circle cx="292.20" cy="377.74" r="3.3"/>
<circle cx="292.50" cy="377.37" r="3.3"/>
<circle cx="293.50" cy="356.50" r="3.3"/>
<circle cx="294.80" cy="377.57" r="3.3"/>
<circle cx="295.01" cy="375.34" r="3.3"/>
<circle cx="295.86" cy="375.23" r="3.3"/>
<circle cx="296.67" cy="375.03" r="3.3"/>
<circle cx="297.20" cy="377.68" r="3.3"/>
<circle cx="297.42" cy="377.67" r="3.3"/>
<circle cx="298.50" cy="361.00" r="3.3"/>
<circle cx="299.80" cy="377.70" r="3.3"/>
<circle cx="300.18" cy="377.36" r="3.3"/>
<circle cx="300.95" cy="374.45" r="3.3"/>
<circle cx="301.25" cy="377.73" r="3.3"/>
<circle cx="302.25" cy="356.00" r="3.3"/>
<circle cx="303.25" cy="195.25" r="3.3"/>
<circle cx="303.95" cy="377.70" r="3.3"/>
<circle cx="304.25" cy="377.44" r="3.3"/>
<circle cx="305.25" cy="356.00" r="3.3"/>
<circle cx="306.55" cy="377.65" r="3.3"/>
<circle cx="307.07" cy="374.89" r="3.3"/>
<circle cx="307.98" cy="377.25" r="3.3"/>
<circle cx="308.20" cy="377.59" r="3.3"/>
<circle cx="309.50" cy="356.00" r="3.3"/>
<circle cx="310.57" cy="375.28" r="3.3"/>
<circle cx="310.80" cy="377.40" r="3.3"/>
<circle cx="311.45" cy="377.72" r="3.3"/>
<circle cx="311.47" cy="377.34" r="3.3"/>
<circle cx="312.75" cy="356.50" r="3.3"/>
<circle cx="314.05" cy="377.57" r="3.3"/>
<circle cx="314.09" cy="374.41" r="3.3"/>
<circle cx="314.90" cy="377.73" r="3.3"/>
<circle cx="314.95" cy="377.53" r="3.3"/>
<circle cx="316.25" cy="356.75" r="3.3"/>
<circle cx="317.39" cy="373.99" r="3.3"/>
<circle cx="317.55" cy="377.40" r="3.3"/>
<circle cx="318.17" cy="377.42" r="3.3"/>
<circle cx="318.92" cy="377.57" r="3.3"/>
<circle cx="319.70" cy="377.64" r="3.3"/>
<circle cx="320.56" cy="375.23" r="3.3"/>
<circle cx="321.44" cy="375.36" r="3.3"/>
<circle cx="321.70" cy="377.42" r="3.3"/>
<circle cx="323.00" cy="356.25" r="3.3"/>
<circle cx="323.95" cy="377.43" r="3.3"/>
<circle cx="324.30" cy="377.40" r="3.3"/>
<circle cx="324.88" cy="374.88" r="3.3"/>
<circle cx="325.00" cy="377.64" r="3.3"/>
<circle cx="326.00" cy="221.60" r="3.3"/>
<circle cx="327.00" cy="349.50" r="3.3"/>
<circle cx="328.00" cy="377.58" r="3.3"/>
<circle cx="328.17" cy="377.43" r="3.3"/>
<circle cx="329.01" cy="374.28" r="3.3"/>
<circle cx="329.20" cy="377.61" r="3.3"/>
<circle cx="330.50" cy="356.75" r="3.3"/>
<circle cx="331.50" cy="374.87" r="3.3"/>
<circle cx="331.80" cy="377.40" r="3.3"/>
<circle cx="332.30" cy="377.36" r="3.3"/>
<circle cx="332.95" cy="377.37" r="3.3"/>
<circle cx="333.05" cy="373.91" r="3.3"/>
<circle cx="334.25" cy="357.50" r="3.3"/>
<circle cx="335.49" cy="374.45" r="3.3"/>
<circle cx="335.55" cy="377.69" r="3.3"/>
<circle cx="336.40" cy="377.60" r="3.3"/>
<circle cx="337.22" cy="377.31" r="3.3"/>
<circle cx="344.96" cy="377.63" r="3.3"/>
<circle cx="345.72" cy="377.38" r="3.3"/>
<circle cx="346.61" cy="374.32" r="3.3"/>
<circle cx="347.41" cy="374.82" r="3.3"/>
<circle cx="347.50" cy="377.68" r="3.3"/>
<circle cx="348.50" cy="356.75" r="3.3"/>
<circle cx="349.50" cy="197.25" r="3.3"/>
<circle cx="350.50" cy="377.66" r="3.3"/>
<circle cx="350.85" cy="373.11" r="3.3"/>
<circle cx="351.78" cy="377.62" r="3.3"/>
<circle cx="352.58" cy="373.90" r="3.3"/>
<circle cx="353.48" cy="377.31" r="3.3"/>
<circle cx="354.29" cy="377.30" r="3.3"/>
<circle cx="355.17" cy="374.40" r="3.3"/>
<circle cx="355.20" cy="377.66" r="3.3"/>
<circle cx="356.50" cy="357.50" r="3.3"/>
<circle cx="357.80" cy="377.56" r="3.3"/>
<circle cx="357.88" cy="374.06" r="3.3"/>
<circle cx="358.71" cy="374.57" r="3.3"/>
<circle cx="359.53" cy="377.44" r="3.3"/>
<circle cx="360.29" cy="375.34" r="3.3"/>
<circle cx="361.05" cy="377.29" r="3.3"/>
<circle cx="361.70" cy="377.51" r="3.3"/>
<circle cx="361.87" cy="377.74" r="3.3"/>
<circle cx="363.00" cy="367.25" r="3.3"/>
<circle cx="364.30" cy="377.64" r="3.3"/>
<circle cx="364.39" cy="374.27" r="3.3"/>
<circle cx="365.15" cy="374.95" r="3.3"/>
<circle cx="366.07" cy="374.00" r="3.3"/>
<circle cx="366.45" cy="377.75" r="3.3"/>
<circle cx="366.83" cy="373.95" r="3.3"/>
<circle cx="367.75" cy="367.25" r="3.3"/>
<circle cx="369.05" cy="377.58" r="3.3"/>
<circle cx="369.33" cy="377.73" r="3.3"/>
<circle cx="370.25" cy="374.46" r="3.3"/>
<circle cx="371.17" cy="375.08" r="3.3"/>
<circle cx="371.94" cy="377.37" r="3.3"/>
<circle cx="372.00" cy="377.60" r="3.3"/>
<circle cx="373.00" cy="184.00" r="3.3"/>
<circle cx="373.70" cy="377.37" r="3.3"/>
<circle cx="374.00" cy="377.52" r="3.3"/>
<circle cx="375.00" cy="356.75" r="3.3"/>
<circle cx="375.93" cy="377.39" r="3.3"/>
<circle cx="376.30" cy="377.47" r="3.3"/>
<circle cx="376.75" cy="377.27" r="3.3"/>
<circle cx="377.45" cy="377.54" r="3.3"/>
<circle cx="377.60" cy="374.49" r="3.3"/>
<circle cx="378.75" cy="364.75" r="3.3"/>
<circle cx="380.03" cy="374.98" r="3.3"/>
<circle cx="380.05" cy="377.50" r="3.3"/>
<circle cx="380.92" cy="375.21" r="3.3"/>
<circle cx="381.84" cy="377.34" r="3.3"/>
<circle cx="382.63" cy="377.65" r="3.3"/>
<circle cx="383.53" cy="373.79" r="3.3"/>
<circle cx="384.38" cy="374.17" r="3.3"/>
<circle cx="384.70" cy="377.48" r="3.3"/>
<circle cx="386.00" cy="356.25" r="3.3"/>
<circle cx="387.30" cy="377.73" r="3.3"/>
<circle cx="387.45" cy="377.39" r="3.3"/>
<circle cx="387.75" cy="377.28" r="3.3"/>
<circle cx="388.75" cy="364.00" r="3.3"/>
<circle cx="390.05" cy="377.44" r="3.3"/>
<circle cx="390.24" cy="375.40" r="3.3"/>
<circle cx="391.12" cy="377.36" r="3.3"/>
<circle cx="392.01" cy="374.47" r="3.3"/>
<circle cx="392.70" cy="377.40" r="3.3"/>
<circle cx="392.83" cy="374.89" r="3.3"/>
<circle cx="394.00" cy="355.75" r="3.3"/>
<circle cx="394.75" cy="377.59" r="3.3"/>
<circle cx="395.30" cy="377.43" r="3.3"/>
<circle cx="395.75" cy="194.25" r="3.3"/>
<circle cx="397.00" cy="368.50" r="3.3"/>
<circle cx="398.00" cy="377.59" r="3.3"/>
<circle cx="398.20" cy="377.71" r="3.3"/>
<circle cx="399.50" cy="355.75" r="3.3"/>
<circle cx="400.80" cy="377.50" r="3.3"/>
<circle cx="406.51" cy="377.59" r="3.3"/>
<circle cx="407.29" cy="374.41" r="3.3"/>
<circle cx="407.95" cy="377.73" r="3.3"/>
<circle cx="408.19" cy="377.53" r="3.3"/>
<circle cx="409.25" cy="353.50" r="3.3"/>
<circle cx="410.55" cy="377.72" r="3.3"/>
<circle cx="410.73" cy="374.01" r="3.3"/>
<circle cx="411.53" cy="377.60" r="3.3"/>
<circle cx="412.42" cy="375.32" r="3.3"/>
<circle cx="413.20" cy="377.59" r="3.3"/>
<circle cx="413.95" cy="377.67" r="3.3"/>
<circle cx="414.06" cy="377.59" r="3.3"/>
<circle cx="415.25" cy="356.75" r="3.3"/>
<circle cx="416.55" cy="377.69" r="3.3"/>
<circle cx="416.69" cy="377.27" r="3.3"/>
<circle cx="417.46" cy="373.83" r="3.3"/>
<circle cx="418.00" cy="377.61" r="3.3"/>
<circle cx="419.00" cy="194.25" r="3.3"/>
<circle cx="420.00" cy="377.73" r="3.3"/>
<circle cx="420.10" cy="377.43" r="3.3"/>
<circle cx="420.87" cy="377.56" r="3.3"/>
<circle cx="421.63" cy="374.18" r="3.3"/>
<circle cx="421.95" cy="377.75" r="3.3"/>
<circle cx="423.25" cy="356.25" r="3.3"/>
<circle cx="424.24" cy="375.34" r="3.3"/>
<circle cx="424.55" cy="377.69" r="3.3"/>
<circle cx="424.95" cy="377.71" r="3.3"/>
<circle cx="425.11" cy="374.27" r="3.3"/>
<circle cx="426.25" cy="356.25" r="3.3"/>
<circle cx="427.55" cy="377.60" r="3.3"/>
<circle cx="427.75" cy="374.84" r="3.3"/>
<circle cx="428.54" cy="374.02" r="3.3"/>
<circle cx="429.45" cy="374.07" r="3.3"/>
<circle cx="429.45" cy="377.74" r="3.3"/>
<circle cx="430.75" cy="357.25" r="3.3"/>
<circle cx="432.05" cy="377.40" r="3.3"/>
<circle cx="432.05" cy="377.44" r="3.3"/>
<circle cx="432.82" cy="374.19" r="3.3"/>
<circle cx="433.70" cy="377.50" r="3.3"/>
<circle cx="433.71" cy="375.15" r="3.3"/>
<circle cx="435.00" cy="357.25" r="3.3"/>
<circle cx="436.26" cy="374.38" r="3.3"/>
<circle cx="436.30" cy="377.69" r="3.3"/>
<circle cx="437.20" cy="377.42" r="3.3"/>
<circle cx="438.11" cy="374.72" r="3.3"/>
<circle cx="438.70" cy="377.65" r="3.3"/>
<circle cx="439.05" cy="377.48" r="3.3"/>
<circle cx="440.00" cy="357.50" r="3.3"/>
<circle cx="441.25" cy="377.60" r="3.3"/>
<circle cx="441.30" cy="377.61" r="3.3"/>
<circle cx="442.25" cy="174.50" r="3.3"/>
<circle cx="443.50" cy="356.75" r="3.3"/>
<circle cx="444.50" cy="377.70" r="3.3"/>
<circle cx="444.95" cy="377.41" r="3.3"/>
<circle cx="445.02" cy="374.68" r="3.3"/>
<circle cx="446.25" cy="367.25" r="3.3"/>
<circle cx="447.55" cy="377.35" r="3.3"/>
<circle cx="447.67" cy="373.89" r="3.3"/>
<circle cx="448.20" cy="377.56" r="3.3"/>
<circle cx="448.46" cy="374.89" r="3.3"/>
<circle cx="449.50" cy="356.00" r="3.3"/>
<circle cx="450.80" cy="377.56" r="3.3"/>
<circle cx="451.09" cy="377.72" r="3.3"/>
<circle cx="451.89" cy="375.58" r="3.3"/>
<circle cx="452.45" cy="377.72" r="3.3"/>
<circle cx="452.73" cy="374.34" r="3.3"/>
<circle cx="453.75" cy="356.25" r="3.3"/>
<circle cx="455.05" cy="377.71" r="3.3"/>
<circle cx="455.14" cy="373.91" r="3.3"/>
<circle cx="455.70" cy="377.61" r="3.3"/>
<circle cx="456.00" cy="377.35" r="3.3"/>
<circle cx="457.00" cy="356.00" r="3.3"/>
<circle cx="458.20" cy="377.42" r="3.3"/>
<circle cx="458.30" cy="377.64" r="3.3"/>
<circle cx="458.40" cy="374.14" r="3.3"/>
<circle cx="459.50" cy="321.00" r="3.3"/>
<circle cx="459.95" cy="377.74" r="3.3"/>
<circle cx="460.80" cy="377.69" r="3.3"/>
<circle cx="461.25" cy="320.00" r="3.3"/>
<circle cx="462.55" cy="377.37" r="3.3"/>
<circle cx="462.72" cy="377.43" r="3.3"/>
<circle cx="463.63" cy="374.76" r="3.3"/>
<circle cx="464.44" cy="375.37" r="3.3"/>
<circle cx="464.50" cy="377.54" r="3.3"/>
<circle cx="465.50" cy="156.25" r="3.3"/>
<circle cx="466.25" cy="368.50" r="3.3"/>
<circle cx="466.50" cy="368.00" r="3.3"/>
<circle cx="467.50" cy="377.69" r="3.3"/>
<circle cx="467.90" cy="377.62" r="3.3"/>
<circle cx="468.20" cy="377.53" r="3.3"/>
<circle cx="469.50" cy="360.50" r="3.3"/>
<circle cx="469.50" cy="360.25" r="3.3"/>
<circle cx="470.80" cy="377.74" r="3.3"/>
<circle cx="471.17" cy="377.63" r="3.3"/>
<circle cx="471.98" cy="374.83" r="3.3"/>
<circle cx="472.86" cy="374.95" r="3.3"/>
<circle cx="473.79" cy="375.50" r="3.3"/>
<circle cx="474.71" cy="374.19" r="3.3"/>
<circle cx="475.49" cy="374.46" r="3.3"/>
<circle cx="476.24" cy="377.27" r="3.3"/>
<circle cx="477.12" cy="377.70" r="3.3"/>
<circle cx="477.90" cy="377.36" r="3.3"/>
<circle cx="478.72" cy="377.30" r="3.3"/>
<circle cx="479.63" cy="377.30" r="3.3"/>
<circle cx="480.20" cy="377.54" r="3.3"/>
<circle cx="480.50" cy="374.40" r="3.3"/>
<circle cx="481.50" cy="355.25" r="3.3"/>
<circle cx="482.80" cy="377.36" r="3.3"/>
<circle cx="483.25" cy="377.40" r="3.3"/>
<circle cx="484.11" cy="374.81" r="3.3"/>
<circle cx="485.04" cy="375.12" r="3.3"/>
<circle cx="485.83" cy="377.50" r="3.3"/>
<circle cx="486.59" cy="375.34" r="3.3"/>
<circle cx="487.25" cy="377.40" r="3.3"/>
<circle cx="488.25" cy="239.25" r="3.3"/>
<circle cx="488.70" cy="377.65" r="3.3"/>
<circle cx="489.25" cy="377.47" r="3.3"/>
<circle cx="490.00" cy="356.50" r="3.3"/>
<circle cx="491.30" cy="377.60" r="3.3"/>
<circle cx="491.74" cy="374.59" r="3.3"/>
<circle cx="492.62" cy="374.93" r="3.3"/>
<circle cx="493.20" cy="377.68" r="3.3"/>
<circle cx="493.46" cy="373.56" r="3.3"/>
<circle cx="494.50" cy="356.50" r="3.3"/>
<circle cx="495.20" cy="377.54" r="3.3"/>
<circle cx="495.80" cy="377.44" r="3.3"/>
<circle cx="496.50" cy="365.50" r="3.3"/>
<circle cx="497.73" cy="375.01" r="3.3"/>
<circle cx="497.80" cy="377.44" r="3.3"/>
<circle cx="498.20" cy="377.62" r="3.3"/>
<circle cx="499.50" cy="357.50" r="3.3"/>
<circle cx="500.80" cy="377.66" r="3.3"/>
<circle cx="501.30" cy="377.39" r="3.3"/>
<circle cx="502.18" cy="377.32" r="3.3"/>
<circle cx="502.70" cy="377.43" r="3.3"/>
<circle cx="503.00" cy="374.65" r="3.3"/>
<circle cx="504.00" cy="356.75" r="3.3"/>
<circle cx="505.30" cy="377.36" r="3.3"/>
<circle cx="505.53" cy="374.60" r="3.3"/>
<circle cx="506.45" cy="377.34" r="3.3"/>
<circle cx="507.28" cy="375.11" r="3.3"/>
<circle cx="507.95" cy="377.41" r="3.3"/>
<circle cx="508.13" cy="371.71" r="3.3"/>
<circle cx="509.25" cy="357.25" r="3.3"/>
<circle cx="510.55" cy="377.43" r="3.3"/>
<circle cx="510.67" cy="377.46" r="3.3"/>
<circle cx="510.75" cy="377.42" r="3.3"/>
<circle cx="511.75" cy="187.00" r="3.3"/>
<circle cx="512.75" cy="377.45" r="3.3"/>
<circle cx="513.21" cy="374.01" r="3.3"/>
<circle cx="513.70" cy="377.66" r="3.3"/>
<circle cx="514.07" cy="377.60" r="3.3"/>
<circle cx="515.00" cy="357.00" r="3.3"/>
<circle cx="516.30" cy="377.54" r="3.3"/>
<circle cx="516.54" cy="374.42" r="3.3"/>
<circle cx="517.45" cy="374.50" r="3.3"/>
<circle cx="518.32" cy="374.35" r="3.3"/>
<circle cx="519.19" cy="375.22" r="3.3"/>
<circle cx="520.08" cy="374.23" r="3.3"/>
<circle cx="520.85" cy="377.73" r="3.3"/>
<circle cx="521.75" cy="374.42" r="3.3"/>
<circle cx="522.58" cy="374.18" r="3.3"/>
<circle cx="523.44" cy="377.60" r="3.3"/>
<circle cx="524.27" cy="377.53" r="3.3"/>
<circle cx="524.45" cy="377.61" r="3.3"/>
<circle cx="525.75" cy="368.50" r="3.3"/>
<circle cx="526.85" cy="375.53" r="3.3"/>
<circle cx="527.05" cy="377.74" r="3.3"/>
<circle cx="527.62" cy="374.56" r="3.3"/>
<circle cx="528.20" cy="377.74" r="3.3"/>
<circle cx="528.56" cy="375.57" r="3.3"/>
<circle cx="529.50" cy="364.75" r="3.3"/>
<circle cx="530.80" cy="377.64" r="3.3"/>
<circle cx="530.95" cy="377.65" r="3.3"/>
<circle cx="531.19" cy="372.28" r="3.3"/>
<circle cx="532.25" cy="368.50" r="3.3"/>
<circle cx="533.55" cy="377.47" r="3.3"/>
<circle cx="533.67" cy="377.67" r="3.3"/>
<circle cx="533.75" cy="377.37" r="3.3"/>
<circle cx="534.75" cy="198.50" r="3.3"/>
<circle cx="535.20" cy="377.38" r="3.3"/>
<circle cx="535.75" cy="377.57" r="3.3"/>
<circle cx="536.50" cy="356.00" r="3.3"/>
<circle cx="537.20" cy="377.37" r="3.3"/>
<circle cx="537.80" cy="377.35" r="3.3"/>
<circle cx="538.50" cy="368.50" r="3.3"/>
<circle cx="539.47" cy="377.74" r="3.3"/>
<circle cx="539.80" cy="377.60" r="3.3"/>
<circle cx="540.37" cy="377.38" r="3.3"/>
<circle cx="541.15" cy="377.36" r="3.3"/>
<circle cx="541.20" cy="377.66" r="3.3"/>
<circle cx="542.50" cy="355.00" r="3.3"/>
<circle cx="543.80" cy="377.66" r="3.3"/>
<circle cx="543.86" cy="377.44" r="3.3"/>
<circle cx="544.75" cy="373.92" r="3.3"/>
<circle cx="545.56" cy="371.50" r="3.3"/>
<circle cx="545.70" cy="377.67" r="3.3"/>
<circle cx="547.00" cy="361.50" r="3.3"/>
<circle cx="547.94" cy="375.46" r="3.3"/>
<circle cx="548.30" cy="377.67" r="3.3"/>
<circle cx="548.75" cy="375.30" r="3.3"/>
<circle cx="549.68" cy="375.49" r="3.3"/>
<circle cx="549.70" cy="377.50" r="3.3"/>
<circle cx="551.00" cy="355.50" r="3.3"/>
<circle cx="552.20" cy="375.34" r="3.3"/>
<circle cx="552.30" cy="377.39" r="3.3"/>
<circle cx="553.11" cy="377.43" r="3.3"/>
<circle cx="553.99" cy="374.91" r="3.3"/>
<circle cx="554.20" cy="377.41" r="3.3"/>
<circle cx="555.50" cy="362.50" r="3.3"/>
<circle cx="556.74" cy="375.07" r="3.3"/>
<circle cx="556.80" cy="377.56" r="3.3"/>
<circle cx="557.50" cy="377.49" r="3.3"/>
<circle cx="557.50" cy="371.55" r="3.3"/>
<circle cx="558.50" cy="177.50" r="3.3"/>
<circle cx="559.50" cy="377.43" r="3.3"/>
<circle cx="560.11" cy="371.14" r="3.3"/>
<circle cx="560.45" cy="377.72" r="3.3"/>
<circle cx="561.75" cy="341.00" r="3.3"/>
<circle cx="563.05" cy="377.49" r="3.3"/>
<circle cx="563.55" cy="377.41" r="3.3"/>
<circle cx="563.95" cy="377.39" r="3.3"/>
<circle cx="565.25" cy="356.00" r="3.3"/>
<circle cx="566.26" cy="377.75" r="3.3"/>
<circle cx="566.55" cy="377.44" r="3.3"/>
<circle cx="567.06" cy="374.54" r="3.3"/>
<circle cx="567.95" cy="377.45" r="3.3"/>
<circle cx="567.98" cy="375.52" r="3.3"/>
<circle cx="569.25" cy="367.00" r="3.3"/>
<circle cx="570.55" cy="377.56" r="3.3"/>
<circle cx="570.73" cy="375.11" r="3.3"/>
<circle cx="571.65" cy="374.37" r="3.3"/>
<circle cx="572.45" cy="377.68" r="3.3"/>
<circle cx="572.58" cy="377.71" r="3.3"/>
<circle cx="573.75" cy="355.00" r="3.3"/>
<circle cx="575.05" cy="377.43" r="3.3"/>
<circle cx="575.14" cy="373.92" r="3.3"/>
<circle cx="575.94" cy="374.38" r="3.3"/>
<circle cx="576.78" cy="377.62" r="3.3"/>
<circle cx="576.95" cy="377.62" r="3.3"/>
<circle cx="578.25" cy="364.25" r="3.3"/>
<circle cx="579.43" cy="377.35" r="3.3"/>
<circle cx="579.55" cy="377.43" r="3.3"/>
<circle cx="580.25" cy="377.36" r="3.3"/>
<circle cx="580.34" cy="377.46" r="3.3"/>
<circle cx="581.25" cy="146.25" r="3.3"/>
<circle cx="582.75" cy="367.75" r="3.3"/>
<circle cx="583.75" cy="377.59" r="3.3"/>
<circle cx="583.89" cy="375.26" r="3.3"/>
<circle cx="584.68" cy="377.40" r="3.3"/>
<circle cx="584.95" cy="377.59" r="3.3"/>
<circle cx="586.25" cy="355.75" r="3.3"/>
<circle cx="587.20" cy="375.33" r="3.3"/>
<circle cx="587.55" cy="377.37" r="3.3"/>
<circle cx="587.96" cy="372.60" r="3.3"/>
<circle cx="588.73" cy="374.18" r="3.3"/>
<circle cx="589.51" cy="374.98" r="3.3"/>
<circle cx="590.20" cy="377.46" r="3.3"/>
<circle cx="590.36" cy="377.73" r="3.3"/>
<circle cx="591.50" cy="356.00" r="3.3"/>
<circle cx="592.80" cy="377.68" r="3.3"/>
<circle cx="593.08" cy="375.13" r="3.3"/>
<circle cx="593.99" cy="373.90" r="3.3"/>
<circle cx="594.45" cy="377.70" r="3.3"/>
<circle cx="595.75" cy="357.50" r="3.3"/>
<circle cx="596.75" cy="377.73" r="3.3"/>
<circle cx="597.05" cy="377.69" r="3.3"/>
<circle cx="597.54" cy="377.71" r="3.3"/>
<circle cx="598.20" cy="377.39" r="3.3"/>
<circle cx="598.30" cy="374.03" r="3.3"/>
<circle cx="599.50" cy="355.25" r="3.3"/>
<circle cx="600.80" cy="377.43" r="3.3"/>
<circle cx="601.01" cy="377.45" r="3.3"/>
<circle cx="601.84" cy="377.27" r="3.3"/>
<circle cx="602.50" cy="377.69" r="3.3"/>
<circle cx="603.50" cy="356.00" r="3.3"/>
<circle cx="604.25" cy="191.00" r="3.3"/>
<circle cx="605.20" cy="377.36" r="3.3"/>
<circle cx="605.25" cy="377.42" r="3.3"/>
<circle cx="605.32" cy="374.89" r="3.3"/>
<circle cx="606.50" cy="356.25" r="3.3"/>
<circle cx="607.80" cy="377.49" r="3.3"/>
<circle cx="607.89" cy="373.09" r="3.3"/>
<circle cx="608.65" cy="377.57" r="3.3"/>
<circle cx="608.95" cy="377.61" r="3.3"/>
<circle cx="610.25" cy="367.75" r="3.3"/>
<circle cx="611.43" cy="377.36" r="3.3"/>
<circle cx="611.55" cy="377.53" r="3.3"/>
<circle cx="618.20" cy="377.70" r="3.3"/>
<circle cx="618.41" cy="377.45" r="3.3"/>
<circle cx="619.50" cy="365.25" r="3.3"/>
<circle cx="620.80" cy="377.74" r="3.3"/>
<circle cx="620.90" cy="377.69" r="3.3"/>
<circle cx="621.20" cy="377.36" r="3.3"/>
<circle cx="622.50" cy="361.75" r="3.3"/>
<circle cx="623.80" cy="377.49" r="3.3"/>
<circle cx="623.95" cy="377.54" r="3.3"/>
<circle cx="624.10" cy="375.58" r="3.3"/>
<circle cx="625.25" cy="356.75" r="3.3"/>
<circle cx="626.50" cy="377.58" r="3.3"/>
<circle cx="626.54" cy="375.20" r="3.3"/>
<circle cx="626.55" cy="377.38" r="3.3"/>
<circle cx="627.50" cy="172.25" r="3.3"/>
<circle cx="628.20" cy="377.42" r="3.3"/>
<circle cx="628.40" cy="375.35" r="3.3"/>
<circle cx="628.50" cy="377.40" r="3.3"/>
<circle cx="629.50" cy="353.50" r="3.3"/>
<circle cx="630.80" cy="377.67" r="3.3"/>
<circle cx="630.95" cy="374.47" r="3.3"/>
<circle cx="631.79" cy="377.34" r="3.3"/>
<circle cx="632.63" cy="375.34" r="3.3"/>
<circle cx="633.43" cy="377.39" r="3.3"/>
<circle cx="634.29" cy="377.31" r="3.3"/>
<circle cx="634.70" cy="377.65" r="3.3"/>
<circle cx="635.09" cy="375.32" r="3.3"/>
<circle cx="636.00" cy="369.00" r="3.3"/>
<circle cx="637.30" cy="377.63" r="3.3"/>
<circle cx="637.45" cy="377.65" r="3.3"/>
<circle cx="637.63" cy="377.50" r="3.3"/>
<circle cx="638.75" cy="364.00" r="3.3"/>
<circle cx="640.05" cy="377.52" r="3.3"/>
<circle cx="640.15" cy="373.62" r="3.3"/>
<circle cx="641.08" cy="375.22" r="3.3"/>
<circle cx="641.45" cy="377.65" r="3.3"/>
<circle cx="642.75" cy="315.75" r="3.3"/>
<circle cx="643.25" cy="342.75" r="3.3"/>
<circle cx="644.32" cy="377.25" r="3.3"/>
<circle cx="644.55" cy="377.58" r="3.3"/>
<circle cx="645.27" cy="375.42" r="3.3"/>
<circle cx="646.08" cy="375.50" r="3.3"/>
<circle cx="646.97" cy="377.26" r="3.3"/>
<circle cx="647.73" cy="374.99" r="3.3"/>
<circle cx="648.50" cy="377.70" r="3.3"/>
<circle cx="648.51" cy="377.33" r="3.3"/>
<circle cx="649.50" cy="226.00" r="3.3"/>
<circle cx="650.75" cy="368.50" r="3.3"/>
<circle cx="650.75" cy="168.25" r="3.3"/>
<circle cx="651.25" cy="359.50" r="3.3"/>
<circle cx="652.25" cy="377.39" r="3.3"/>
<circle cx="652.71" cy="375.35" r="3.3"/>
<circle cx="653.50" cy="374.32" r="3.3"/>
<circle cx="654.20" cy="377.61" r="3.3"/>
<circle cx="654.29" cy="377.71" r="3.3"/>
<circle cx="655.50" cy="366.75" r="3.3"/>
<circle cx="656.80" cy="377.57" r="3.3"/>
<circle cx="656.81" cy="377.44" r="3.3"/>
<circle cx="657.70" cy="374.55" r="3.3"/>
<circle cx="658.49" cy="377.38" r="3.3"/>
<circle cx="659.33" cy="375.50" r="3.3"/>
<circle cx="660.24" cy="377.33" r="3.3"/>
<circle cx="660.70" cy="377.52" r="3.3"/>
<circle cx="662.00" cy="356.75" r="3.3"/>
<circle cx="663.20" cy="377.58" r="3.3"/>
<circle cx="663.30" cy="377.39" r="3.3"/>
<circle cx="664.50" cy="366.75" r="3.3"/>
<circle cx="665.46" cy="377.66" r="3.3"/>
<circle cx="665.80" cy="377.38" r="3.3"/>
<circle cx="666.38" cy="377.67" r="3.3"/>
<circle cx="666.70" cy="377.55" r="3.3"/>
<circle cx="668.00" cy="356.25" r="3.3"/>
<circle cx="669.20" cy="377.54" r="3.3"/>
<circle cx="669.30" cy="377.54" r="3.3"/>
<circle cx="670.50" cy="356.25" r="3.3"/>
<circle cx="671.75" cy="377.57" r="3.3"/>
<circle cx="671.80" cy="377.74" r="3.3"/>
<circle cx="672.75" cy="231.75" r="3.3"/>
<circle cx="673.00" cy="377.75" r="3.3"/>
<circle cx="673.75" cy="377.68" r="3.3"/>
<circle cx="674.00" cy="170.00" r="3.3"/>
<circle cx="675.00" cy="364.50" r="3.3"/>
<circle cx="676.00" cy="377.43" r="3.3"/>
<circle cx="676.58" cy="374.25" r="3.3"/>
<circle cx="677.34" cy="373.88" r="3.3"/>
<circle cx="678.19" cy="374.65" r="3.3"/>
<circle cx="679.05" cy="377.27" r="3.3"/>
<circle cx="679.84" cy="377.70" r="3.3"/>
<circle cx="680.64" cy="375.55" r="3.3"/>
<circle cx="681.41" cy="375.25" r="3.3"/>
<circle cx="682.17" cy="374.56" r="3.3"/>
<circle cx="683.02" cy="375.41" r="3.3"/>
<circle cx="683.95" cy="375.52" r="3.3"/>
<circle cx="684.70" cy="377.68" r="3.3"/>
<circle cx="684.72" cy="374.70" r="3.3"/>
<circle cx="686.00" cy="356.50" r="3.3"/>
<circle cx="687.13" cy="377.45" r="3.3"/>
<circle cx="687.30" cy="377.56" r="3.3"/>
<circle cx="688.05" cy="377.46" r="3.3"/>
<circle cx="688.95" cy="377.34" r="3.3"/>
<circle cx="689.89" cy="374.84" r="3.3"/>
<circle cx="690.81" cy="374.89" r="3.3"/>
<circle cx="691.75" cy="374.99" r="3.3"/>
<circle cx="692.54" cy="377.53" r="3.3"/>
<circle cx="693.45" cy="377.46" r="3.3"/>
<circle cx="693.49" cy="373.96" r="3.3"/>
<circle cx="694.75" cy="336.75" r="3.3"/>
<circle cx="695.00" cy="353.25" r="3.3"/>
<circle cx="696.08" cy="373.88" r="3.3"/>
<circle cx="696.30" cy="377.53" r="3.3"/>
<circle cx="697.02" cy="377.54" r="3.3"/>
<circle cx="697.90" cy="377.48" r="3.3"/>
<circle cx="698.66" cy="374.69" r="3.3"/>
<circle cx="699.42" cy="377.27" r="3.3"/>
<circle cx="700.32" cy="374.46" r="3.3"/>
<circle cx="701.23" cy="374.01" r="3.3"/>
<circle cx="701.99" cy="375.12" r="3.3"/>
<circle cx="702.88" cy="377.48" r="3.3"/>
<circle cx="703.81" cy="375.15" r="3.3"/>
<circle cx="704.66" cy="373.89" r="3.3"/>
<circle cx="705.20" cy="377.62" r="3.3"/>
<circle cx="705.47" cy="377.43" r="3.3"/>
<circle cx="706.50" cy="356.00" r="3.3"/>
<circle cx="707.80" cy="377.54" r="3.3"/>
<circle cx="708.06" cy="375.12" r="3.3"/>
<circle cx="708.90" cy="375.33" r="3.3"/>
<circle cx="709.67" cy="377.60" r="3.3"/>
<circle cx="709.95" cy="377.53" r="3.3"/>
<circle cx="711.25" cy="368.50" r="3.3"/>
<circle cx="712.55" cy="377.44" r="3.3"/>
<circle cx="712.88" cy="374.09" r="3.3"/>
<circle cx="713.20" cy="377.71" r="3.3"/>
<circle cx="714.50" cy="356.75" r="3.3"/>
<circle cx="715.50" cy="377.39" r="3.3"/>
<circle cx="715.80" cy="377.53" r="3.3"/>
<circle cx="716.20" cy="377.65" r="3.3"/>
<circle cx="716.34" cy="374.50" r="3.3"/>
<circle cx="717.50" cy="369.00" r="3.3"/>
<circle cx="718.79" cy="377.49" r="3.3"/>
<circle cx="718.80" cy="377.64" r="3.3"/>
<circle cx="719.25" cy="377.44" r="3.3"/>
<circle cx="720.25" cy="155.75" r="3.3"/>
<circle cx="721.24" cy="377.32" r="3.3"/>
<circle cx="721.25" cy="377.55" r="3.3"/>
<circle cx="721.45" cy="377.53" r="3.3"/>
<circle cx="722.75" cy="356.50" r="3.3"/>
<circle cx="723.75" cy="377.26" r="3.3"/>
<circle cx="724.05" cy="377.45" r="3.3"/>
<circle cx="724.55" cy="375.31" r="3.3"/>
<circle cx="725.32" cy="374.81" r="3.3"/>
<circle cx="726.08" cy="374.81" r="3.3"/>
<circle cx="726.95" cy="377.39" r="3.3"/>
<circle cx="726.98" cy="377.64" r="3.3"/>
<circle cx="728.25" cy="359.00" r="3.3"/>
<circle cx="729.55" cy="377.57" r="3.3"/>
<circle cx="729.60" cy="377.57" r="3.3"/>
<circle cx="730.48" cy="374.07" r="3.3"/>
<circle cx="731.40" cy="374.27" r="3.3"/>
<circle cx="732.30" cy="374.74" r="3.3"/>
<circle cx="732.70" cy="377.50" r="3.3"/>
<circle cx="734.00" cy="355.25" r="3.3"/>
<circle cx="735.03" cy="377.31" r="3.3"/>
<circle cx="735.30" cy="377.55" r="3.3"/>
<circle cx="735.78" cy="374.55" r="3.3"/>
<circle cx="736.63" cy="371.97" r="3.3"/>
<circle cx="737.46" cy="374.03" r="3.3"/>
<circle cx="738.33" cy="377.52" r="3.3"/>
<circle cx="738.45" cy="377.55" r="3.3"/>
<circle cx="739.75" cy="362.00" r="3.3"/>
<circle cx="740.88" cy="374.60" r="3.3"/>
<circle cx="741.05" cy="377.47" r="3.3"/>
<circle cx="741.70" cy="377.36" r="3.3"/>
<circle cx="742.62" cy="374.80" r="3.3"/>
<circle cx="743.00" cy="377.57" r="3.3"/>
<circle cx="744.00" cy="194.25" r="3.3"/>
<circle cx="744.45" cy="377.56" r="3.3"/>
<circle cx="745.00" cy="377.54" r="3.3"/>
<circle cx="745.75" cy="360.75" r="3.3"/>
<circle cx="746.73" cy="377.29" r="3.3"/>
<circle cx="747.05" cy="377.37" r="3.3"/>
<circle cx="747.55" cy="374.09" r="3.3"/>
<circle cx="748.49" cy="377.54" r="3.3"/>
<circle cx="748.70" cy="377.47" r="3.3"/>
<circle cx="750.00" cy="368.50" r="3.3"/>
<circle cx="750.45" cy="377.37" r="3.3"/>
<circle cx="751.30" cy="377.40" r="3.3"/>
<circle cx="751.75" cy="356.25" r="3.3"/>
<circle cx="753.05" cy="377.65" r="3.3"/>
<circle cx="753.58" cy="374.63" r="3.3"/>
<circle cx="754.20" cy="377.53" r="3.3"/>
<circle cx="754.53" cy="374.67" r="3.3"/>
<circle cx="755.50" cy="364.00" r="3.3"/>
<circle cx="756.80" cy="377.37" r="3.3"/>
<circle cx="757.07" cy="374.97" r="3.3"/>
<circle cx="758.01" cy="374.65" r="3.3"/>
<circle cx="758.20" cy="377.41" r="3.3"/>
<circle cx="759.50" cy="348.25" r="3.3"/>
<circle cx="760.43" cy="374.57" r="3.3"/>
<circle cx="760.80" cy="377.70" r="3.3"/>
<circle cx="761.20" cy="377.70" r="3.3"/>
<circle cx="761.36" cy="372.24" r="3.3"/>
<circle cx="762.50" cy="369.75" r="3.3"/>
<circle cx="763.80" cy="377.57" r="3.3"/>
<circle cx="764.02" cy="377.48" r="3.3"/>
<circle cx="764.93" cy="377.59" r="3.3"/>
<circle cx="765.50" cy="377.72" r="3.3"/>
<circle cx="766.50" cy="166.50" r="3.3"/>
<circle cx="767.50" cy="377.65" r="3.3"/>
<circle cx="767.64" cy="377.30" r="3.3"/>
<circle cx="768.53" cy="373.82" r="3.3"/>
<circle cx="768.95" cy="377.72" r="3.3"/>
<circle cx="770.25" cy="356.00" r="3.3"/>
<circle cx="771.55" cy="377.48" r="3.3"/>
<circle cx="771.88" cy="374.69" r="3.3"/>
<circle cx="772.67" cy="377.43" r="3.3"/>
<circle cx="773.54" cy="377.25" r="3.3"/>
<circle cx="774.42" cy="377.54" r="3.3"/>
<circle cx="775.33" cy="377.40" r="3.3"/>
<circle cx="775.70" cy="377.44" r="3.3"/>
<circle cx="776.08" cy="377.33" r="3.3"/>
<circle cx="777.00" cy="371.00" r="3.3"/>
<circle cx="778.30" cy="377.39" r="3.3"/>
<circle cx="778.62" cy="374.60" r="3.3"/>
<circle cx="779.42" cy="374.64" r="3.3"/>
<circle cx="780.37" cy="374.86" r="3.3"/>
<circle cx="781.14" cy="377.37" r="3.3"/>
<circle cx="781.92" cy="377.66" r="3.3"/>
<circle cx="782.77" cy="374.50" r="3.3"/>
<circle cx="783.68" cy="377.74" r="3.3"/>
<circle cx="784.59" cy="377.39" r="3.3"/>
<circle cx="785.41" cy="377.62" r="3.3"/>
<circle cx="786.18" cy="374.55" r="3.3"/>
<circle cx="786.70" cy="377.69" r="3.3"/>
<circle cx="787.00" cy="374.91" r="3.3"/>
<circle cx="788.00" cy="365.50" r="3.3"/>
<circle cx="788.75" cy="377.49" r="3.3"/>
<circle cx="789.30" cy="377.46" r="3.3"/>
<circle cx="789.75" cy="208.50" r="3.3"/>
<circle cx="790.75" cy="377.69" r="3.3"/>
<circle cx="791.33" cy="375.15" r="3.3"/>
<circle cx="792.09" cy="374.06" r="3.3"/>
<circle cx="792.45" cy="377.40" r="3.3"/>
<circle cx="793.75" cy="355.00" r="3.3"/>
<circle cx="794.75" cy="377.45" r="3.3"/>
<circle cx="795.05" cy="377.36" r="3.3"/>
<circle cx="795.69" cy="373.89" r="3.3"/>
<circle cx="796.49" cy="374.31" r="3.3"/>
<circle cx="797.28" cy="377.31" r="3.3"/>
<circle cx="797.45" cy="377.66" r="3.3"/>
<circle cx="798.75" cy="356.25" r="3.3"/>
<circle cx="799.84" cy="377.57" r="3.3"/>
<circle cx="800.05" cy="377.37" r="3.3"/>
<circle cx="800.62" cy="372.87" r="3.3"/>
<circle cx="801.49" cy="377.48" r="3.3"/>
<circle cx="801.70" cy="377.59" r="3.3"/>
<circle cx="803.00" cy="356.00" r="3.3"/>
<circle cx="803.91" cy="377.34" r="3.3"/>
<circle cx="804.30" cy="377.56" r="3.3"/>
<circle cx="804.73" cy="377.65" r="3.3"/>
<circle cx="805.53" cy="377.73" r="3.3"/>
<circle cx="806.42" cy="377.67" r="3.3"/>
<circle cx="807.31" cy="377.62" r="3.3"/>
<circle cx="808.22" cy="377.53" r="3.3"/>
<circle cx="809.14" cy="375.31" r="3.3"/>
<circle cx="809.96" cy="374.92" r="3.3"/>
<circle cx="810.90" cy="377.27" r="3.3"/>
<circle cx="811.25" cy="377.35" r="3.3"/>
<circle cx="812.25" cy="333.00" r="3.3"/>
<circle cx="813.00" cy="200.25" r="3.3"/>
<circle cx="813.25" cy="351.00" r="3.3"/>
<circle cx="814.17" cy="375.13" r="3.3"/>
<circle cx="814.25" cy="377.42" r="3.3"/>
<circle cx="815.10" cy="374.94" r="3.3"/>
<circle cx="815.90" cy="375.22" r="3.3"/>
<circle cx="816.82" cy="377.49" r="3.3"/>
<circle cx="817.68" cy="377.36" r="3.3"/>
<circle cx="823.20" cy="377.69" r="3.3"/>
<circle cx="824.50" cy="356.75" r="3.3"/>
<circle cx="825.80" cy="377.58" r="3.3"/>
<circle cx="826.06" cy="377.47" r="3.3"/>
<circle cx="826.88" cy="375.07" r="3.3"/>
<circle cx="827.65" cy="377.64" r="3.3"/>
<circle cx="828.42" cy="375.09" r="3.3"/>
<circle cx="829.20" cy="377.54" r="3.3"/>
<circle cx="829.25" cy="374.21" r="3.3"/>
<circle cx="830.50" cy="356.75" r="3.3"/>
<circle cx="831.80" cy="377.61" r="3.3"/>
<circle cx="831.88" cy="377.74" r="3.3"/>
<circle cx="832.76" cy="374.97" r="3.3"/>
<circle cx="833.60" cy="374.34" r="3.3"/>
<circle cx="834.40" cy="374.97" r="3.3"/>
<circle cx="834.90" cy="377.67" r="3.3"/>
<circle cx="835.90" cy="231.50" r="3.3"/>
<circle cx="836.83" cy="374.28" r="3.3"/>
<circle cx="836.90" cy="377.62" r="3.3"/>
<circle cx="837.72" cy="377.73" r="3.3"/>
<circle cx="838.51" cy="377.60" r="3.3"/>
<circle cx="839.33" cy="377.59" r="3.3"/>
<circle cx="839.70" cy="377.46" r="3.3"/>
<circle cx="841.00" cy="356.75" r="3.3"/>
<circle cx="841.91" cy="374.31" r="3.3"/>
<circle cx="842.30" cy="377.74" r="3.3"/>
<circle cx="842.71" cy="374.37" r="3.3"/>
<circle cx="843.53" cy="377.33" r="3.3"/>
<circle cx="844.44" cy="377.73" r="3.3"/>
<circle cx="845.36" cy="375.51" r="3.3"/>
<circle cx="845.45" cy="377.53" r="3.3"/>
<circle cx="846.75" cy="355.50" r="3.3"/>
<circle cx="847.84" cy="377.29" r="3.3"/>
<circle cx="848.05" cy="377.57" r="3.3"/>
<circle cx="855.55" cy="373.93" r="3.3"/>
<circle cx="855.70" cy="377.74" r="3.3"/>
<circle cx="857.00" cy="358.25" r="3.3"/>
<circle cx="858.25" cy="374.78" r="3.3"/>
<circle cx="858.30" cy="377.62" r="3.3"/>
<circle cx="858.50" cy="377.50" r="3.3"/>
<circle cx="859.50" cy="208.75" r="3.3"/>
<circle cx="860.50" cy="377.55" r="3.3"/>
<circle cx="860.74" cy="373.93" r="3.3"/>
<circle cx="861.52" cy="375.52" r="3.3"/>
<circle cx="862.41" cy="375.13" r="3.3"/>
<circle cx="863.27" cy="371.76" r="3.3"/>
<circle cx="864.13" cy="377.72" r="3.3"/>
<circle cx="864.95" cy="375.24" r="3.3"/>
<circle cx="865.76" cy="377.40" r="3.3"/>
<circle cx="866.64" cy="377.63" r="3.3"/>
<circle cx="867.50" cy="373.92" r="3.3"/>
<circle cx="868.32" cy="377.31" r="3.3"/>
<circle cx="869.09" cy="375.00" r="3.3"/>
<circle cx="870.01" cy="374.23" r="3.3"/>
<circle cx="870.79" cy="374.52" r="3.3"/>
<circle cx="871.63" cy="374.10" r="3.3"/>
<circle cx="872.41" cy="377.57" r="3.3"/>
<circle cx="873.20" cy="377.61" r="3.3"/>
<circle cx="873.99" cy="374.79" r="3.3"/>
<circle cx="874.76" cy="377.52" r="3.3"/>
<circle cx="875.20" cy="377.72" r="3.3"/>
<circle cx="875.58" cy="377.71" r="3.3"/>
<circle cx="876.50" cy="357.25" r="3.3"/>
<circle cx="877.80" cy="377.36" r="3.3"/>
<circle cx="878.18" cy="377.39" r="3.3"/>
<circle cx="879.13" cy="375.40" r="3.3"/>
<circle cx="879.98" cy="375.26" r="3.3"/>
<circle cx="880.84" cy="377.29" r="3.3"/>
<circle cx="881.50" cy="377.43" r="3.3"/>
<circle cx="882.50" cy="194.00" r="3.3"/>
<circle cx="883.20" cy="377.71" r="3.3"/>
<circle cx="883.50" cy="377.36" r="3.3"/>
<circle cx="883.53" cy="375.15" r="3.3"/>
<circle cx="884.50" cy="369.25" r="3.3"/>
<circle cx="885.80" cy="377.64" r="3.3"/>
<circle cx="885.86" cy="374.09" r="3.3"/>
<circle cx="886.67" cy="377.43" r="3.3"/>
<circle cx="887.59" cy="375.30" r="3.3"/>
<circle cx="888.50" cy="374.26" r="3.3"/>
<circle cx="889.31" cy="377.34" r="3.3"/>
<circle cx="890.12" cy="377.47" r="3.3"/>
<circle cx="890.70" cy="377.73" r="3.3"/>
<circle cx="890.95" cy="375.17" r="3.3"/>
<circle cx="892.00" cy="370.50" r="3.3"/>
<circle cx="893.30" cy="377.44" r="3.3"/>
<circle cx="898.82" cy="377.60" r="3.3"/>
<circle cx="899.69" cy="377.41" r="3.3"/>
<circle cx="899.95" cy="377.64" r="3.3"/>
<circle cx="901.25" cy="358.25" r="3.3"/>
<circle cx="902.25" cy="377.73" r="3.3"/>
<circle cx="902.55" cy="377.70" r="3.3"/>
<circle cx="903.09" cy="377.39" r="3.3"/>
<circle cx="903.84" cy="374.06" r="3.3"/>
<circle cx="904.75" cy="375.09" r="3.3"/>
<circle cx="904.75" cy="377.58" r="3.3"/>
<circle cx="905.75" cy="183.00" r="3.3"/>
<circle cx="907.00" cy="366.25" r="3.3"/>
<circle cx="908.00" cy="377.39" r="3.3"/>
<circle cx="908.13" cy="374.40" r="3.3"/>
<circle cx="909.05" cy="375.30" r="3.3"/>
<circle cx="909.86" cy="374.59" r="3.3"/>
<circle cx="910.68" cy="377.71" r="3.3"/>
<circle cx="911.49" cy="373.85" r="3.3"/>
<circle cx="912.42" cy="373.85" r="3.3"/>
<circle cx="913.37" cy="374.14" r="3.3"/>
<circle cx="914.13" cy="374.50" r="3.3"/>
<circle cx="914.94" cy="373.88" r="3.3"/>
<circle cx="915.78" cy="375.06" r="3.3"/>
<circle cx="916.60" cy="375.55" r="3.3"/>
<circle cx="917.39" cy="374.79" r="3.3"/>
<circle cx="918.16" cy="374.93" r="3.3"/>
<circle cx="918.95" cy="377.42" r="3.3"/>
<circle cx="919.02" cy="374.65" r="3.3"/>
<circle cx="920.25" cy="356.75" r="3.3"/>
<circle cx="921.49" cy="377.31" r="3.3"/>
<circle cx="921.55" cy="377.65" r="3.3"/>
<circle cx="922.35" cy="377.32" r="3.3"/>
<circle cx="923.15" cy="377.48" r="3.3"/>
<circle cx="923.95" cy="374.60" r="3.3"/>
<circle cx="924.75" cy="375.40" r="3.3"/>
<circle cx="925.60" cy="375.46" r="3.3"/>
<circle cx="926.43" cy="377.53" r="3.3"/>
<circle cx="927.35" cy="374.31" r="3.3"/>
<circle cx="928.25" cy="377.25" r="3.3"/>
<circle cx="929.15" cy="377.33" r="3.3"/>
<circle cx="929.98" cy="377.27" r="3.3"/>
<circle cx="930.84" cy="375.35" r="3.3"/>
<circle cx="931.74" cy="377.63" r="3.3"/>
<circle cx="932.45" cy="377.69" r="3.3"/>
<circle cx="932.57" cy="377.45" r="3.3"/>
<circle cx="933.75" cy="355.50" r="3.3"/>
<circle cx="935.05" cy="377.38" r="3.3"/>
<circle cx="935.06" cy="374.00" r="3.3"/>
<circle cx="935.45" cy="377.52" r="3.3"/>
<circle cx="936.75" cy="364.75" r="3.3"/>
<circle cx="937.72" cy="374.03" r="3.3"/>
<circle cx="938.05" cy="377.47" r="3.3"/>
<circle cx="938.51" cy="374.99" r="3.3"/>
<circle cx="939.41" cy="374.11" r="3.3"/>
<circle cx="939.45" cy="377.71" r="3.3"/>
<circle cx="940.75" cy="356.00" r="3.3"/>
<circle cx="941.91" cy="371.49" r="3.3"/>
<circle cx="942.05" cy="377.73" r="3.3"/>
<circle cx="942.67" cy="375.42" r="3.3"/>
<circle cx="943.53" cy="375.40" r="3.3"/>
<circle cx="943.70" cy="377.47" r="3.3"/>
<circle cx="945.00" cy="356.00" r="3.3"/>
<circle cx="946.15" cy="377.53" r="3.3"/>
<circle cx="946.30" cy="377.58" r="3.3"/>
<circle cx="947.06" cy="375.40" r="3.3"/>
<circle cx="947.82" cy="377.35" r="3.3"/>
<circle cx="948.20" cy="377.72" r="3.3"/>
<circle cx="949.50" cy="369.75" r="3.3"/>
<circle cx="950.80" cy="377.37" r="3.3"/>
<circle cx="951.16" cy="375.34" r="3.3"/>
<circle cx="952.09" cy="374.36" r="3.3"/>
<circle cx="953.00" cy="373.76" r="3.3"/>
<circle cx="953.75" cy="377.50" r="3.3"/>
<circle cx="953.82" cy="377.50" r="3.3"/>
<circle cx="954.75" cy="208.75" r="3.3"/>
<circle cx="954.75" cy="205.00" r="3.3"/>
<circle cx="955.65" cy="377.66" r="3.3"/>
<circle cx="955.75" cy="377.43" r="3.3"/>
<circle cx="956.56" cy="374.89" r="3.3"/>
<circle cx="957.41" cy="377.33" r="3.3"/>
<circle cx="958.24" cy="374.50" r="3.3"/>
<circle cx="958.70" cy="377.72" r="3.3"/>
<circle cx="959.00" cy="377.64" r="3.3"/>
<circle cx="960.00" cy="357.50" r="3.3"/>
<circle cx="961.30" cy="377.41" r="3.3"/>
<circle cx="961.56" cy="377.57" r="3.3"/>
<circle cx="962.40" cy="374.90" r="3.3"/>
<circle cx="963.22" cy="377.46" r="3.3"/>
<circle cx="963.70" cy="377.72" r="3.3"/>
<circle cx="964.04" cy="377.52" r="3.3"/>
<circle cx="965.00" cy="357.25" r="3.3"/>
<circle cx="966.30" cy="377.40" r="3.3"/>
<circle cx="966.53" cy="375.11" r="3.3"/>
<circle cx="967.33" cy="375.13" r="3.3"/>
<circle cx="968.19" cy="373.88" r="3.3"/>
<circle cx="969.14" cy="377.47" r="3.3"/>
<circle cx="970.05" cy="374.21" r="3.3"/>
<circle cx="970.45" cy="377.57" r="3.3"/>
<circle cx="971.75" cy="357.25" r="3.3"/>
<circle cx="973.05" cy="377.61" r="3.3"/>
<circle cx="973.43" cy="374.03" r="3.3"/>
<circle cx="974.25" cy="377.53" r="3.3"/>
<circle cx="975.25" cy="187.75" r="3.3"/>
<circle cx="976.25" cy="377.38" r="3.3"/>
<circle cx="976.97" cy="374.68" r="3.3"/>
<circle cx="977.84" cy="377.47" r="3.3"/>
<circle cx="978.68" cy="377.58" r="3.3"/>
<circle cx="979.49" cy="372.26" r="3.3"/>
<circle cx="980.31" cy="377.63" r="3.3"/>
<circle cx="980.70" cy="377.64" r="3.3"/>
<circle cx="982.00" cy="355.75" r="3.3"/>
<circle cx="983.30" cy="377.70" r="3.3"/>
<circle cx="983.59" cy="374.80" r="3.3"/>
<circle cx="983.70" cy="377.54" r="3.3"/>
<circle cx="985.00" cy="359.75" r="3.3"/>
<circle cx="986.04" cy="377.60" r="3.3"/>
<circle cx="986.30" cy="377.65" r="3.3"/>
<circle cx="986.86" cy="374.61" r="3.3"/>
<circle cx="987.79" cy="377.29" r="3.3"/>
<circle cx="988.66" cy="377.66" r="3.3"/>
<circle cx="989.53" cy="372.66" r="3.3"/>
<circle cx="990.43" cy="374.04" r="3.3"/>
<circle cx="991.19" cy="373.98" r="3.3"/>
<circle cx="992.00" cy="377.74" r="3.3"/>
<circle cx="992.45" cy="377.71" r="3.3"/>
<circle cx="992.78" cy="377.40" r="3.3"/>
<circle cx="993.75" cy="368.50" r="3.3"/>
<circle cx="995.05" cy="377.69" r="3.3"/>
<circle cx="995.20" cy="374.04" r="3.3"/>
<circle cx="996.08" cy="377.38" r="3.3"/>
<circle cx="996.50" cy="377.73" r="3.3"/>
<circle cx="997.50" cy="362.00" r="3.3"/>
<circle cx="998.50" cy="183.25" r="3.3"/>
<circle cx="999.20" cy="377.63" r="3.3"/>
<circle cx="999.50" cy="377.67" r="3.3"/>
<circle cx="999.57" cy="374.99" r="3.3"/>
<circle cx="1000.50" cy="369.50" r="3.3"/>
<circle cx="1001.80" cy="377.63" r="3.3"/>
<circle cx="1001.99" cy="374.45" r="3.3"/>
<circle cx="1002.20" cy="377.45" r="3.3"/>
<circle cx="1003.50" cy="355.25" r="3.3"/>
<circle cx="1004.53" cy="374.43" r="3.3"/>
<circle cx="1004.80" cy="377.63" r="3.3"/>
<circle cx="1005.36" cy="374.99" r="3.3"/>
<circle cx="1006.12" cy="375.52" r="3.3"/>
<circle cx="1007.00" cy="377.50" r="3.3"/>
<circle cx="1007.70" cy="377.55" r="3.3"/>
<circle cx="1007.87" cy="377.52" r="3.3"/>
<circle cx="1009.00" cy="360.25" r="3.3"/>
<circle cx="1010.30" cy="377.68" r="3.3"/>
<circle cx="1010.42" cy="373.62" r="3.3"/>
<circle cx="1010.70" cy="377.61" r="3.3"/>
<circle cx="1012.00" cy="357.25" r="3.3"/>
<circle cx="1013.00" cy="377.67" r="3.3"/>
<circle cx="1013.30" cy="377.74" r="3.3"/>
<circle cx="1013.70" cy="377.65" r="3.3"/>
<circle cx="1013.78" cy="375.44" r="3.3"/>
<circle cx="1015.00" cy="358.25" r="3.3"/>
<circle cx="1016.30" cy="377.74" r="3.3"/>
<circle cx="1016.39" cy="374.60" r="3.3"/>
<circle cx="1017.27" cy="375.00" r="3.3"/>
<circle cx="1018.17" cy="377.39" r="3.3"/>
<circle cx="1019.07" cy="375.04" r="3.3"/>
<circle cx="1019.97" cy="372.35" r="3.3"/>
<circle cx="1020.75" cy="377.46" r="3.3"/>
<circle cx="1020.78" cy="373.91" r="3.3"/>
<circle cx="1021.75" cy="187.00" r="3.3"/>
<circle cx="1022.75" cy="377.53" r="3.3"/>
<circle cx="1023.15" cy="374.21" r="3.3"/>
<circle cx="1023.70" cy="377.67" r="3.3"/>
<circle cx="1023.97" cy="373.07" r="3.3"/>
<circle cx="1025.00" cy="355.75" r="3.3"/>
<circle cx="1026.30" cy="377.56" r="3.3"/>
<circle cx="1026.40" cy="377.72" r="3.3"/>
<circle cx="1027.25" cy="375.27" r="3.3"/>
<circle cx="1028.19" cy="377.68" r="3.3"/>
<circle cx="1028.97" cy="373.94" r="3.3"/>
<circle cx="1029.76" cy="377.36" r="3.3"/>
<circle cx="1030.20" cy="377.38" r="3.3"/>
<circle cx="1030.55" cy="372.20" r="3.3"/>
<circle cx="1031.50" cy="356.75" r="3.3"/>
<circle cx="1032.80" cy="377.71" r="3.3"/>
<circle cx="1033.16" cy="375.02" r="3.3"/>
<circle cx="1033.20" cy="377.42" r="3.3"/>
<circle cx="1034.50" cy="357.75" r="3.3"/>
<circle cx="1035.76" cy="377.43" r="3.3"/>
<circle cx="1035.80" cy="377.58" r="3.3"/>
<circle cx="1036.59" cy="375.49" r="3.3"/>
<circle cx="1037.45" cy="373.95" r="3.3"/>
<circle cx="1038.39" cy="375.20" r="3.3"/>
<circle cx="1038.70" cy="377.55" r="3.3"/>
<circle cx="1040.00" cy="365.50" r="3.3"/>
<circle cx="1041.30" cy="377.42" r="3.3"/>
<circle cx="1041.63" cy="377.37" r="3.3"/>
<circle cx="1042.51" cy="377.25" r="3.3"/>
<circle cx="1043.30" cy="375.32" r="3.3"/>
<circle cx="1043.50" cy="377.59" r="3.3"/>
<circle cx="1044.50" cy="164.00" r="3.3"/>
<circle cx="1044.50" cy="151.25" r="3.3"/>
<circle cx="1044.95" cy="377.47" r="3.3"/>
<circle cx="1045.50" cy="377.55" r="3.3"/>
<circle cx="1046.25" cy="369.00" r="3.3"/>
<circle cx="1047.55" cy="377.36" r="3.3"/>
<circle cx="1047.76" cy="377.58" r="3.3"/>
<circle cx="1048.61" cy="375.31" r="3.3"/>
<circle cx="1049.45" cy="377.61" r="3.3"/>
<circle cx="1049.50" cy="374.78" r="3.3"/>
<circle cx="1050.75" cy="356.75" r="3.3"/>
<circle cx="1052.05" cy="377.42" r="3.3"/>
<circle cx="1052.08" cy="374.95" r="3.3"/>
<circle cx="1052.99" cy="375.27" r="3.3"/>
<circle cx="1053.91" cy="372.85" r="3.3"/>
<circle cx="1054.67" cy="377.26" r="3.3"/>
<circle cx="1055.42" cy="375.33" r="3.3"/>
<circle cx="1055.45" cy="377.47" r="3.3"/>
<circle cx="1056.75" cy="355.75" r="3.3"/>
<circle cx="1057.87" cy="375.44" r="3.3"/>
<circle cx="1058.05" cy="377.50" r="3.3"/>
<circle cx="1058.20" cy="377.59" r="3.3"/>
<circle cx="1059.50" cy="368.50" r="3.3"/>
<circle cx="1060.51" cy="373.84" r="3.3"/>
<circle cx="1060.80" cy="377.61" r="3.3"/>
<circle cx="1061.27" cy="377.35" r="3.3"/>
<circle cx="1061.70" cy="377.73" r="3.3"/>
<circle cx="1063.00" cy="370.50" r="3.3"/>
<circle cx="1064.30" cy="377.70" r="3.3"/>
<circle cx="1064.56" cy="375.41" r="3.3"/>
<circle cx="1080.00" cy="376.20" r="3.3"/>
<circle cx="1080.75" cy="200.50" r="3.3"/>
<circle cx="1080.75" cy="197.50" r="3.3"/>
<circle cx="1081.20" cy="377.45" r="3.3"/>
<circle cx="1081.75" cy="377.72" r="3.3"/>
<circle cx="1082.50" cy="357.25" r="3.3"/>
<circle cx="1082.95" cy="377.68" r="3.3"/>
<circle cx="1083.80" cy="377.65" r="3.3"/>
<circle cx="1084.25" cy="367.75" r="3.3"/>
<circle cx="1085.55" cy="377.72" r="3.3"/>
<circle cx="1085.59" cy="377.73" r="3.3"/>
<circle cx="1086.44" cy="374.60" r="3.3"/>
<circle cx="1086.45" cy="377.41" r="3.3"/>
<circle cx="1087.75" cy="355.75" r="3.3"/>
<circle cx="1088.90" cy="374.62" r="3.3"/>
<circle cx="1089.05" cy="377.40" r="3.3"/>
<circle cx="1089.76" cy="373.83" r="3.3"/>
<circle cx="1090.25" cy="377.48" r="3.3"/>
<circle cx="1091.25" cy="173.50" r="3.3"/>
<circle cx="1091.95" cy="377.65" r="3.3"/>
<circle cx="1092.25" cy="377.64" r="3.3"/>
<circle cx="1093.25" cy="356.00" r="3.3"/>
<circle cx="1094.55" cy="377.63" r="3.3"/>
<circle cx="1101.20" cy="377.57" r="3.3"/>
<circle cx="1102.50" cy="356.75" r="3.3"/>
<circle cx="1103.45" cy="377.63" r="3.3"/>
<circle cx="1103.80" cy="377.69" r="3.3"/>
<circle cx="1104.24" cy="377.33" r="3.3"/>
<circle cx="1104.95" cy="377.57" r="3.3"/>
<circle cx="1105.14" cy="375.51" r="3.3"/>
<circle cx="1106.25" cy="362.75" r="3.3"/>
<circle cx="1107.55" cy="377.64" r="3.3"/>
<circle cx="1107.73" cy="375.03" r="3.3"/>
<circle cx="1108.67" cy="377.38" r="3.3"/>
<circle cx="1109.59" cy="374.53" r="3.3"/>
<circle cx="1110.45" cy="377.37" r="3.3"/>
<circle cx="1110.54" cy="377.44" r="3.3"/>
<circle cx="1111.75" cy="355.50" r="3.3"/>
<circle cx="1113.05" cy="377.36" r="3.3"/>
<circle cx="1113.16" cy="374.65" r="3.3"/>
<circle cx="1114.03" cy="375.02" r="3.3"/>
<circle cx="1114.90" cy="375.20" r="3.3"/>
<circle cx="1115.78" cy="377.30" r="3.3"/>
<circle cx="1116.00" cy="377.53" r="3.3"/>
<circle cx="1117.00" cy="183.00" r="3.3"/>
<circle cx="1117.00" cy="180.50" r="3.3"/>
<circle cx="1118.00" cy="377.65" r="3.3"/>
<circle cx="1118.37" cy="375.20" r="3.3"/>
<circle cx="1119.15" cy="374.65" r="3.3"/>
<circle cx="1119.45" cy="377.36" r="3.3"/>
<circle cx="1120.75" cy="357.25" r="3.3"/>
<circle cx="1121.77" cy="377.66" r="3.3"/>
<circle cx="1122.05" cy="377.63" r="3.3"/>
<circle cx="1122.69" cy="374.45" r="3.3"/>
<circle cx="1123.60" cy="374.04" r="3.3"/>
<circle cx="1124.36" cy="374.10" r="3.3"/>
<circle cx="1125.27" cy="377.67" r="3.3"/>
<circle cx="1126.07" cy="377.57" r="3.3"/>
<circle cx="1126.99" cy="374.78" r="3.3"/>
<circle cx="1127.75" cy="373.81" r="3.3"/>
<circle cx="1127.95" cy="377.61" r="3.3"/>
<circle cx="1129.25" cy="368.50" r="3.3"/>
<circle cx="1130.33" cy="374.23" r="3.3"/>
<circle cx="1130.55" cy="377.75" r="3.3"/>
<circle cx="1131.11" cy="374.94" r="3.3"/>
<circle cx="1131.96" cy="377.56" r="3.3"/>
<circle cx="1132.78" cy="375.57" r="3.3"/>
<circle cx="1133.57" cy="375.50" r="3.3"/>
<circle cx="1134.36" cy="375.11" r="3.3"/>
<circle cx="1135.17" cy="377.33" r="3.3"/>
<circle cx="1135.94" cy="374.05" r="3.3"/>
<circle cx="1136.73" cy="374.17" r="3.3"/>
<circle cx="1136.75" cy="377.60" r="3.3"/>
<circle cx="1137.75" cy="200.50" r="3.3"/>
<circle cx="1138.75" cy="377.56" r="3.3"/>
<circle cx="1139.19" cy="374.94" r="3.3"/>
<circle cx="1140.08" cy="377.55" r="3.3"/>
<circle cx="1140.45" cy="377.55" r="3.3"/>
<circle cx="1141.75" cy="356.75" r="3.3"/>
<circle cx="1142.50" cy="361.75" r="3.3"/>
<circle cx="1143.52" cy="373.94" r="3.3"/>
<circle cx="1143.70" cy="377.55" r="3.3"/>
<circle cx="1143.80" cy="377.67" r="3.3"/>
<circle cx="1145.00" cy="360.00" r="3.3"/>
<circle cx="1146.14" cy="377.42" r="3.3"/>
<circle cx="1146.30" cy="377.75" r="3.3"/>
<circle cx="1146.96" cy="377.37" r="3.3"/>
<circle cx="1147.45" cy="377.64" r="3.3"/>
<circle cx="1147.78" cy="374.71" r="3.3"/>
<circle cx="1148.75" cy="368.50" r="3.3"/>
<circle cx="1150.05" cy="377.71" r="3.3"/>
<circle cx="1150.37" cy="374.77" r="3.3"/>
<circle cx="1150.45" cy="377.59" r="3.3"/>
<circle cx="1151.75" cy="368.50" r="3.3"/>
<circle cx="1152.96" cy="374.00" r="3.3"/>
<circle cx="1153.05" cy="377.73" r="3.3"/>
<circle cx="1153.80" cy="374.68" r="3.3"/>
<circle cx="1154.72" cy="374.27" r="3.3"/>
<circle cx="1155.55" cy="377.41" r="3.3"/>
<circle cx="1156.41" cy="374.21" r="3.3"/>
<circle cx="1156.70" cy="377.74" r="3.3"/>
<circle cx="1158.00" cy="355.75" r="3.3"/>
<circle cx="1159.30" cy="377.63" r="3.3"/>
<circle cx="1159.65" cy="377.71" r="3.3"/>
<circle cx="1160.25" cy="377.66" r="3.3"/>
<circle cx="1161.25" cy="208.25" r="3.3"/>
<circle cx="1161.25" cy="204.00" r="3.3"/>
<circle cx="1162.25" cy="377.52" r="3.3"/>
<circle cx="1165.70" cy="377.54" r="3.3"/>
<circle cx="1167.00" cy="346.75" r="3.3"/>
<circle cx="1168.15" cy="371.19" r="3.3"/>
<circle cx="1168.30" cy="377.45" r="3.3"/>
<circle cx="1168.45" cy="377.49" r="3.3"/>
<circle cx="1169.75" cy="355.50" r="3.3"/>
<circle cx="1170.67" cy="375.59" r="3.3"/>
<circle cx="1171.05" cy="377.46" r="3.3"/>
<circle cx="1171.62" cy="377.62" r="3.3"/>
<circle cx="1172.20" cy="377.40" r="3.3"/>
<circle cx="1172.43" cy="377.32" r="3.3"/>
<circle cx="1173.50" cy="364.00" r="3.3"/>
<circle cx="1174.80" cy="377.59" r="3.3"/>
<circle cx="1174.98" cy="377.60" r="3.3"/>
<circle cx="1175.45" cy="377.62" r="3.3"/>
<circle cx="1176.75" cy="354.00" r="3.3"/>
<circle cx="1177.74" cy="377.65" r="3.3"/>
<circle cx="1178.05" cy="377.36" r="3.3"/>
<circle cx="1178.50" cy="374.93" r="3.3"/>
<circle cx="1179.34" cy="374.55" r="3.3"/>
<circle cx="1179.70" cy="377.69" r="3.3"/>
<circle cx="1181.00" cy="357.00" r="3.3"/>
<circle cx="1182.30" cy="377.46" r="3.3"/>
<circle cx="1182.80" cy="375.51" r="3.3"/>
<circle cx="1182.90" cy="377.49" r="3.3"/>
<circle cx="1183.90" cy="155.25" r="3.3"/>
<circle cx="1184.90" cy="377.73" r="3.3"/>
<circle cx="1185.30" cy="375.02" r="3.3"/>
<circle cx="1186.10" cy="375.08" r="3.3"/>
<circle cx="1187.00" cy="374.53" r="3.3"/>
<circle cx="1187.84" cy="374.80" r="3.3"/>
<circle cx="1188.76" cy="377.53" r="3.3"/>
<circle cx="1189.64" cy="377.32" r="3.3"/>
<circle cx="1190.40" cy="375.28" r="3.3"/>
<circle cx="1191.34" cy="374.16" r="3.3"/>
<circle cx="1192.19" cy="374.39" r="3.3"/>
<circle cx="1193.00" cy="377.33" r="3.3"/>
<circle cx="1193.78" cy="375.23" r="3.3"/>
<circle cx="1194.55" cy="377.36" r="3.3"/>
<circle cx="1195.49" cy="374.41" r="3.3"/>
<circle cx="1196.29" cy="374.37" r="3.3"/>
<circle cx="1196.95" cy="377.42" r="3.3"/>
<circle cx="1197.07" cy="377.40" r="3.3"/>
<circle cx="1198.25" cy="368.50" r="3.3"/>
<circle cx="1199.55" cy="377.39" r="3.3"/>
<circle cx="1199.55" cy="377.46" r="3.3"/>
<circle cx="1200.37" cy="375.32" r="3.3"/>
<circle cx="1200.70" cy="377.50" r="3.3"/>
<circle cx="1202.00" cy="357.50" r="3.3"/>
<circle cx="1203.03" cy="377.35" r="3.3"/>
<circle cx="1203.30" cy="377.46" r="3.3"/>
<circle cx="1203.98" cy="375.54" r="3.3"/>
<circle cx="1204.81" cy="375.20" r="3.3"/>
<circle cx="1205.66" cy="377.52" r="3.3"/>
<circle cx="1205.75" cy="377.43" r="3.3"/>
<circle cx="1206.75" cy="356.75" r="3.3"/>
<circle cx="1207.25" cy="191.00" r="3.3"/>
<circle cx="1208.25" cy="377.69" r="3.3"/>
<circle cx="1208.28" cy="377.34" r="3.3"/>
<circle cx="1209.06" cy="373.81" r="3.3"/>
<circle cx="1209.45" cy="377.54" r="3.3"/>
<circle cx="1210.75" cy="361.50" r="3.3"/>
<circle cx="1211.66" cy="377.37" r="3.3"/>
<circle cx="1212.05" cy="377.55" r="3.3"/>
<circle cx="1212.51" cy="375.43" r="3.3"/>
<circle cx="1213.20" cy="377.42" r="3.3"/>
<circle cx="1213.35" cy="374.52" r="3.3"/>
<circle cx="1214.50" cy="364.00" r="3.3"/>
<circle cx="1215.76" cy="377.30" r="3.3"/>
<circle cx="1215.80" cy="377.43" r="3.3"/>
<circle cx="1216.68" cy="377.29" r="3.3"/>
<circle cx="1216.95" cy="377.42" r="3.3"/>
<circle cx="1218.25" cy="356.50" r="3.3"/>
<circle cx="1219.25" cy="377.28" r="3.3"/>
<circle cx="1219.55" cy="377.52" r="3.3"/>
<circle cx="1220.13" cy="377.58" r="3.3"/>
<circle cx="1220.97" cy="377.38" r="3.3"/>
<circle cx="1221.75" cy="375.06" r="3.3"/>
<circle cx="1222.52" cy="375.43" r="3.3"/>
<circle cx="1223.38" cy="374.53" r="3.3"/>
<circle cx="1224.22" cy="377.49" r="3.3"/>
<circle cx="1224.99" cy="375.36" r="3.3"/>
<circle cx="1225.85" cy="377.56" r="3.3"/>
<circle cx="1226.74" cy="377.67" r="3.3"/>
<circle cx="1227.68" cy="377.33" r="3.3"/>
<circle cx="1228.60" cy="375.33" r="3.3"/>
<circle cx="1229.25" cy="377.39" r="3.3"/>
<circle cx="1230.25" cy="144.25" r="3.3"/>
<circle cx="1231.25" cy="377.48" r="3.3"/>
<circle cx="1235.45" cy="377.47" r="3.3"/>
<circle cx="1236.75" cy="353.75" r="3.3"/>
<circle cx="1238.00" cy="357.25" r="3.3"/>
<circle cx="1239.30" cy="377.66" r="3.3"/>
<circle cx="1239.33" cy="377.69" r="3.3"/>
<circle cx="1239.45" cy="377.74" r="3.3"/>
<circle cx="1240.75" cy="356.75" r="3.3"/>
<circle cx="1241.90" cy="375.57" r="3.3"/>
<circle cx="1242.05" cy="377.70" r="3.3"/>
<circle cx="1242.84" cy="374.18" r="3.3"/>
<circle cx="1243.20" cy="377.61" r="3.3"/>
<circle cx="1244.50" cy="362.25" r="3.3"/>
<circle cx="1245.80" cy="377.71" r="3.3"/>
<circle cx="1245.95" cy="377.42" r="3.3"/>
<circle cx="1246.29" cy="377.62" r="3.3"/>
<circle cx="1247.25" cy="354.75" r="3.3"/>
<circle cx="1248.55" cy="377.53" r="3.3"/>
<circle cx="1248.72" cy="377.30" r="3.3"/>
<circle cx="1248.95" cy="377.50" r="3.3"/>
<circle cx="1250.25" cy="357.25" r="3.3"/>
<circle cx="1251.15" cy="374.19" r="3.3"/>
<circle cx="1251.55" cy="377.50" r="3.3"/>
<circle cx="1252.05" cy="377.63" r="3.3"/>
<circle cx="1252.50" cy="377.48" r="3.3"/>
<circle cx="1253.50" cy="173.25" r="3.3"/>
<circle cx="1254.50" cy="377.55" r="3.3"/>
<circle cx="1254.62" cy="374.35" r="3.3"/>
<circle cx="1255.53" cy="377.34" r="3.3"/>
<circle cx="1256.38" cy="375.58" r="3.3"/>
<circle cx="1257.31" cy="374.87" r="3.3"/>
<circle cx="1258.08" cy="377.38" r="3.3"/>
<circle cx="1258.95" cy="377.75" r="3.3"/>
<circle cx="1258.97" cy="377.58" r="3.3"/>
<circle cx="1260.25" cy="363.50" r="3.3"/>
<circle cx="1261.33" cy="377.26" r="3.3"/>
<circle cx="1261.55" cy="377.43" r="3.3"/>
<circle cx="1262.20" cy="377.45" r="3.3"/>
<circle cx="1262.28" cy="374.74" r="3.3"/>
<circle cx="1263.50" cy="355.25" r="3.3"/>
<circle cx="1264.80" cy="377.55" r="3.3"/>
<circle cx="1264.95" cy="377.54" r="3.3"/>
<circle cx="1264.97" cy="374.45" r="3.3"/>
<circle cx="1266.25" cy="358.00" r="3.3"/>
<circle cx="1267.55" cy="375.43" r="3.3"/>
<circle cx="1267.55" cy="377.49" r="3.3"/>
<circle cx="1268.44" cy="377.67" r="3.3"/>
<circle cx="1269.20" cy="377.72" r="3.3"/>
<circle cx="1269.39" cy="374.26" r="3.3"/>
<circle cx="1270.50" cy="369.75" r="3.3"/>
<circle cx="1271.80" cy="377.46" r="3.3"/>
<circle cx="1272.02" cy="374.26" r="3.3"/>
<circle cx="1272.93" cy="374.54" r="3.3"/>
<circle cx="1273.20" cy="377.65" r="3.3"/>
<circle cx="1274.50" cy="356.75" r="3.3"/>
<circle cx="1275.59" cy="375.06" r="3.3"/>
<circle cx="1275.75" cy="377.64" r="3.3"/>
<circle cx="1275.80" cy="377.72" r="3.3"/>
<circle cx="1276.75" cy="177.50" r="3.3"/>
<circle cx="1278.25" cy="356.75" r="3.3"/>
<circle cx="1279.25" cy="377.46" r="3.3"/>
<circle cx="1285.20" cy="377.67" r="3.3"/>
<circle cx="1286.50" cy="327.00" r="3.3"/>
<circle cx="1288.00" cy="339.00" r="3.3"/>
<circle cx="1289.30" cy="377.45" r="3.3"/>
<circle cx="1289.46" cy="374.19" r="3.3"/>
<circle cx="1289.70" cy="377.36" r="3.3"/>
<circle cx="1291.00" cy="366.50" r="3.3"/>
<circle cx="1292.19" cy="374.87" r="3.3"/>
<circle cx="1292.30" cy="377.55" r="3.3"/>
<circle cx="1292.96" cy="374.09" r="3.3"/>
<circle cx="1293.77" cy="374.09" r="3.3"/>
<circle cx="1294.45" cy="377.60" r="3.3"/>
<circle cx="1294.68" cy="377.51" r="3.3"/>
<circle cx="1295.75" cy="356.00" r="3.3"/>
<circle cx="1297.05" cy="377.56" r="3.3"/>
<circle cx="1297.12" cy="374.51" r="3.3"/>
<circle cx="1297.96" cy="377.64" r="3.3"/>
<circle cx="1298.78" cy="374.49" r="3.3"/>
<circle cx="1299.00" cy="377.48" r="3.3"/>
<circle cx="1300.00" cy="219.25" r="3.3"/>
<circle cx="1301.00" cy="377.44" r="3.3"/>
<circle cx="1301.16" cy="374.80" r="3.3"/>
<circle cx="1301.20" cy="377.50" r="3.3"/>
<circle cx="1302.50" cy="362.00" r="3.3"/>
<circle cx="1303.73" cy="375.53" r="3.3"/>
<circle cx="1303.80" cy="377.49" r="3.3"/>
<circle cx="1304.58" cy="377.72" r="3.3"/>
<circle cx="1304.65" cy="377.61" r="3.3"/>
<circle cx="1305.88" cy="356.50" r="3.3"/>
<circle cx="1307.17" cy="377.69" r="3.3"/>
<circle cx="1307.20" cy="374.50" r="3.3"/>
<circle cx="1323.00" cy="377.65" r="3.3"/>
<circle cx="1323.60" cy="376.10" r="3.3"/>
<circle cx="1324.00" cy="145.25" r="3.3"/>
<circle cx="1325.50" cy="356.00" r="3.3"/>
<circle cx="1326.50" cy="377.45" r="3.3"/>
<circle cx="1333.20" cy="377.63" r="3.3"/>
<circle cx="1334.50" cy="371.00" r="3.3"/>
<circle cx="1335.55" cy="374.38" r="3.3"/>
<circle cx="1335.80" cy="377.52" r="3.3"/>
<circle cx="1336.48" cy="374.95" r="3.3"/>
<circle cx="1337.42" cy="377.33" r="3.3"/>
<circle cx="1338.31" cy="374.79" r="3.3"/>
<circle cx="1339.21" cy="374.29" r="3.3"/>
<circle cx="1339.95" cy="377.75" r="3.3"/>
<circle cx="1340.11" cy="377.59" r="3.3"/>
<circle cx="1341.25" cy="356.00" r="3.3"/>
<circle cx="1342.55" cy="377.73" r="3.3"/>
<circle cx="1342.76" cy="377.46" r="3.3"/>
<circle cx="1343.62" cy="377.55" r="3.3"/>
<circle cx="1344.52" cy="375.09" r="3.3"/>
<circle cx="1345.25" cy="377.64" r="3.3"/>
<circle cx="1346.25" cy="144.00" r="3.3"/>
<circle cx="1346.70" cy="377.47" r="3.3"/>
<circle cx="1347.25" cy="377.48" r="3.3"/>
<circle cx="1348.00" cy="350.00" r="3.3"/>
<circle cx="1349.30" cy="377.48" r="3.3"/>
<circle cx="1349.75" cy="374.38" r="3.3"/>
<circle cx="1349.95" cy="377.63" r="3.3"/>
<circle cx="1351.25" cy="356.00" r="3.3"/>
<circle cx="1352.41" cy="375.10" r="3.3"/>
<circle cx="1352.55" cy="377.54" r="3.3"/>
<circle cx="1353.19" cy="374.11" r="3.3"/>
<circle cx="1354.10" cy="377.68" r="3.3"/>
<circle cx="1354.45" cy="377.56" r="3.3"/>
<circle cx="1355.75" cy="356.00" r="3.3"/>
<circle cx="1356.66" cy="375.29" r="3.3"/>
<circle cx="1357.05" cy="377.56" r="3.3"/>
<circle cx="1357.48" cy="377.60" r="3.3"/>
<circle cx="1358.30" cy="370.72" r="3.3"/>
<circle cx="1359.09" cy="377.28" r="3.3"/>
<circle cx="1359.88" cy="377.53" r="3.3"/>
<circle cx="1359.95" cy="377.70" r="3.3"/>
<circle cx="1361.25" cy="357.00" r="3.3"/>
<circle cx="1362.28" cy="373.87" r="3.3"/>
<circle cx="1362.45" cy="377.67" r="3.3"/>
<circle cx="1362.55" cy="377.39" r="3.3"/>
<circle cx="1363.75" cy="364.50" r="3.3"/>
<circle cx="1364.81" cy="374.09" r="3.3"/>
<circle cx="1365.05" cy="377.36" r="3.3"/>
<circle cx="1365.69" cy="375.03" r="3.3"/>
<circle cx="1366.47" cy="374.75" r="3.3"/>
<circle cx="1367.33" cy="374.25" r="3.3"/>
<circle cx="1368.13" cy="377.29" r="3.3"/>
<circle cx="1368.35" cy="377.38" r="3.3"/>
<circle cx="1369.35" cy="140.40" r="3.3"/>
<circle cx="1370.35" cy="377.74" r="3.3"/>
<circle cx="1370.67" cy="377.36" r="3.3"/>
<circle cx="1371.43" cy="374.58" r="3.3"/>
<circle cx="1372.25" cy="375.12" r="3.3"/>
<circle cx="1372.95" cy="377.57" r="3.3"/>
<circle cx="1373.05" cy="377.48" r="3.3"/>
<circle cx="1374.25" cy="356.50" r="3.3"/>
<circle cx="1375.55" cy="377.42" r="3.3"/>
<circle cx="1375.67" cy="375.40" r="3.3"/>
<circle cx="1376.48" cy="373.86" r="3.3"/>
<circle cx="1377.36" cy="374.21" r="3.3"/>
<circle cx="1378.19" cy="371.42" r="3.3"/>
<circle cx="1378.70" cy="377.36" r="3.3"/>
<circle cx="1379.00" cy="374.15" r="3.3"/>
<circle cx="1380.00" cy="362.00" r="3.3"/>
<circle cx="1381.30" cy="377.57" r="3.3"/>
<circle cx="1381.54" cy="374.66" r="3.3"/>
<circle cx="1382.42" cy="375.36" r="3.3"/>
<circle cx="1382.70" cy="377.64" r="3.3"/>
<circle cx="1384.00" cy="357.25" r="3.3"/>
<circle cx="1385.30" cy="377.67" r="3.3"/>
<circle cx="1385.68" cy="374.40" r="3.3"/>
<circle cx="1386.55" cy="374.57" r="3.3"/>
<circle cx="1387.35" cy="374.18" r="3.3"/>
<circle cx="1387.70" cy="377.37" r="3.3"/>
<circle cx="1389.00" cy="357.00" r="3.3"/>
<circle cx="1389.94" cy="374.70" r="3.3"/>
<circle cx="1390.30" cy="377.67" r="3.3"/>
<circle cx="1390.87" cy="374.26" r="3.3"/>
<circle cx="1391.50" cy="377.52" r="3.3"/>
<circle cx="1392.50" cy="159.00" r="3.3"/>
<circle cx="1394.00" cy="368.50" r="3.3"/>
<circle cx="1395.00" cy="377.69" r="3.3"/>
<circle cx="1395.20" cy="377.54" r="3.3"/>
<circle cx="1395.25" cy="374.50" r="3.3"/>
<circle cx="1396.50" cy="356.75" r="3.3"/>
<circle cx="1397.69" cy="375.11" r="3.3"/>
<circle cx="1397.80" cy="377.37" r="3.3"/>
<circle cx="1403.70" cy="377.70" r="3.3"/>
<circle cx="1405.00" cy="356.25" r="3.3"/>
<circle cx="1406.18" cy="377.75" r="3.3"/>
<circle cx="1406.30" cy="377.42" r="3.3"/>
<circle cx="1407.06" cy="377.61" r="3.3"/>
<circle cx="1407.45" cy="377.55" r="3.3"/>
<circle cx="1407.82" cy="374.60" r="3.3"/>
<circle cx="1408.75" cy="356.75" r="3.3"/>
<circle cx="1410.05" cy="377.40" r="3.3"/>
<circle cx="1410.41" cy="377.64" r="3.3"/>
<circle cx="1410.95" cy="377.47" r="3.3"/>
<circle cx="1411.28" cy="377.58" r="3.3"/>
<circle cx="1412.25" cy="355.50" r="3.3"/>
<circle cx="1413.55" cy="377.66" r="3.3"/>
<circle cx="1413.85" cy="377.33" r="3.3"/>
<circle cx="1414.75" cy="377.39" r="3.3"/>
<circle cx="1414.76" cy="375.55" r="3.3"/>
<circle cx="1415.75" cy="164.50" r="3.3"/>
<circle cx="1417.25" cy="356.75" r="3.3"/>
<circle cx="1418.25" cy="377.56" r="3.3"/>
<circle cx="1418.87" cy="374.30" r="3.3"/>
<circle cx="1419.74" cy="374.68" r="3.3"/>
<circle cx="1420.60" cy="377.32" r="3.3"/>
<circle cx="1421.55" cy="373.87" r="3.3"/>
<circle cx="1422.20" cy="377.74" r="3.3"/>
<circle cx="1422.37" cy="373.57" r="3.3"/>
<circle cx="1423.50" cy="355.00" r="3.3"/>
<circle cx="1424.80" cy="377.75" r="3.3"/>
<circle cx="1424.83" cy="374.32" r="3.3"/>
<circle cx="1425.67" cy="377.66" r="3.3"/>
<circle cx="1426.50" cy="377.65" r="3.3"/>
<circle cx="1427.40" cy="374.81" r="3.3"/>
<circle cx="1428.19" cy="375.25" r="3.3"/>
<circle cx="1428.99" cy="374.34" r="3.3"/>
<circle cx="1429.94" cy="373.89" r="3.3"/>
<circle cx="1430.87" cy="374.30" r="3.3"/>
<circle cx="1431.63" cy="377.74" r="3.3"/>
<circle cx="1432.56" cy="374.47" r="3.3"/>
<circle cx="1433.36" cy="377.67" r="3.3"/>
<circle cx="1434.24" cy="372.82" r="3.3"/>
<circle cx="1434.99" cy="377.57" r="3.3"/>
<circle cx="1435.92" cy="374.78" r="3.3"/>
<circle cx="1436.70" cy="377.67" r="3.3"/>
<circle cx="1437.60" cy="373.82" r="3.3"/>
<circle cx="1438.25" cy="377.55" r="3.3"/>
<circle cx="1439.25" cy="201.25" r="3.3"/>
<circle cx="1440.75" cy="358.75" r="3.3"/>
<circle cx="1441.75" cy="377.57" r="3.3"/>
<circle cx="1441.98" cy="377.47" r="3.3"/>
<circle cx="1442.83" cy="377.62" r="3.3"/>
<circle cx="1443.58" cy="374.32" r="3.3"/>
<circle cx="1444.52" cy="372.40" r="3.3"/>
<circle cx="1445.42" cy="374.14" r="3.3"/>
<circle cx="1445.45" cy="377.63" r="3.3"/>
<circle cx="1446.75" cy="356.50" r="3.3"/>
<circle cx="1447.87" cy="377.46" r="3.3"/>
<circle cx="1448.05" cy="377.69" r="3.3"/>
<circle cx="1448.69" cy="377.33" r="3.3"/>
<circle cx="1449.60" cy="375.52" r="3.3"/>
<circle cx="1450.53" cy="375.47" r="3.3"/>
<circle cx="1450.95" cy="377.61" r="3.3"/>
<circle cx="1451.34" cy="374.01" r="3.3"/>
<circle cx="1452.25" cy="356.25" r="3.3"/>
<circle cx="1453.55" cy="377.62" r="3.3"/>
<circle cx="1453.86" cy="377.30" r="3.3"/>
<circle cx="1454.68" cy="377.45" r="3.3"/>
<circle cx="1455.20" cy="377.41" r="3.3"/>
<circle cx="1455.46" cy="377.52" r="3.3"/>
<circle cx="1456.50" cy="366.75" r="3.3"/>
<circle cx="1457.80" cy="377.75" r="3.3"/>
<circle cx="1458.10" cy="375.48" r="3.3"/>
<circle cx="1458.99" cy="377.51" r="3.3"/>
<circle cx="1459.82" cy="374.32" r="3.3"/>
<circle cx="1460.62" cy="374.35" r="3.3"/>
<circle cx="1461.25" cy="377.45" r="3.3"/>
<circle cx="1462.25" cy="202.25" r="3.3"/>
<circle cx="1463.17" cy="375.49" r="3.3"/>
<circle cx="1463.25" cy="377.41" r="3.3"/>
<circle cx="1463.97" cy="373.07" r="3.3"/>
<circle cx="1464.80" cy="374.12" r="3.3"/>
<circle cx="1465.68" cy="375.53" r="3.3"/>
<circle cx="1466.44" cy="371.23" r="3.3"/>
<circle cx="1467.20" cy="377.63" r="3.3"/>
<circle cx="1468.14" cy="377.41" r="3.3"/>
<circle cx="1469.07" cy="373.95" r="3.3"/>
<circle cx="1469.88" cy="377.74" r="3.3"/>
<circle cx="1469.95" cy="377.70" r="3.3"/>
<circle cx="1471.25" cy="355.50" r="3.3"/>
<circle cx="1472.49" cy="375.26" r="3.3"/>
<circle cx="1472.55" cy="377.38" r="3.3"/>
<circle cx="1473.41" cy="377.49" r="3.3"/>
<circle cx="1474.18" cy="374.00" r="3.3"/>
<circle cx="1474.95" cy="377.46" r="3.3"/>
<circle cx="1475.11" cy="377.32" r="3.3"/>
<circle cx="1476.25" cy="367.25" r="3.3"/>
<circle cx="1477.55" cy="377.39" r="3.3"/>
<circle cx="1477.74" cy="374.53" r="3.3"/>
<circle cx="1478.65" cy="377.72" r="3.3"/>
<circle cx="1479.50" cy="377.55" r="3.3"/>
<circle cx="1480.26" cy="375.56" r="3.3"/>
<circle cx="1481.17" cy="374.78" r="3.3"/>
<circle cx="1481.95" cy="375.23" r="3.3"/>
<circle cx="1482.78" cy="377.26" r="3.3"/>
<circle cx="1483.25" cy="377.63" r="3.3"/>
<circle cx="1484.25" cy="356.00" r="3.3"/>
<circle cx="1485.25" cy="220.25" r="3.3"/>
<circle cx="1486.25" cy="377.60" r="3.3"/>
<circle cx="1487.05" cy="375.42" r="3.3"/>
<circle cx="1487.87" cy="377.37" r="3.3"/>
<circle cx="1488.65" cy="373.84" r="3.3"/>
<circle cx="1488.95" cy="377.59" r="3.3"/>
<circle cx="1490.25" cy="362.75" r="3.3"/>
<circle cx="1491.55" cy="377.35" r="3.3"/>
<circle cx="1491.84" cy="374.52" r="3.3"/>
<circle cx="1492.70" cy="374.87" r="3.3"/>
<circle cx="1493.45" cy="377.51" r="3.3"/>
<circle cx="1493.57" cy="373.95" r="3.3"/>
<circle cx="1494.75" cy="356.25" r="3.3"/>
<circle cx="1496.05" cy="377.61" r="3.3"/>
<circle cx="1496.31" cy="374.31" r="3.3"/>
<circle cx="1497.06" cy="374.07" r="3.3"/>
<circle cx="1497.90" cy="375.28" r="3.3"/>
<circle cx="1498.84" cy="374.33" r="3.3"/>
<circle cx="1499.64" cy="377.58" r="3.3"/>
<circle cx="1500.45" cy="377.58" r="3.3"/>
<circle cx="1500.45" cy="377.53" r="3.3"/>
<circle cx="1501.75" cy="355.00" r="3.3"/>
<circle cx="1503.05" cy="377.64" r="3.3"/>
<circle cx="1503.22" cy="374.09" r="3.3"/>
<circle cx="1503.95" cy="377.73" r="3.3"/>
<circle cx="1504.17" cy="375.11" r="3.3"/>
<circle cx="1505.25" cy="357.00" r="3.3"/>
<circle cx="1506.55" cy="377.71" r="3.3"/>
<circle cx="1506.55" cy="377.31" r="3.3"/>
<circle cx="1507.49" cy="377.36" r="3.3"/>
<circle cx="1507.50" cy="377.42" r="3.3"/>
<circle cx="1508.50" cy="160.75" r="3.3"/>
<circle cx="1509.50" cy="377.64" r="3.3"/>
<circle cx="1509.95" cy="377.38" r="3.3"/>
<circle cx="1510.23" cy="375.41" r="3.3"/>
<circle cx="1511.25" cy="366.75" r="3.3"/>
<circle cx="1512.55" cy="377.65" r="3.3"/>
<circle cx="1512.83" cy="377.48" r="3.3"/>
<circle cx="1513.77" cy="377.48" r="3.3"/>
<circle cx="1514.20" cy="377.64" r="3.3"/>
<circle cx="1515.50" cy="350.50" r="3.3"/>
<circle cx="1516.45" cy="373.96" r="3.3"/>
<circle cx="1516.80" cy="377.55" r="3.3"/>
</g>
<g shape-rendering="crispEdges" fill="#000">
<rect x="84" y="122" width="1" height="273"/>
<rect x="84" y="394" width="1455" height="1"/>
<rect x="85" y="376" width="10" height="1"/>
<rect x="85" y="308" width="10" height="1"/>
<rect x="85" y="240" width="10" height="1"/>
<rect x="85" y="170" width="10" height="1"/>
<rect x="85" y="390" width="4" height="1"/>
<rect x="85" y="362" width="4" height="1"/>
<rect x="85" y="350" width="4" height="1"/>
<rect x="85" y="336" width="4" height="1"/>
<rect x="85" y="322" width="4" height="1"/>
<rect x="85" y="294" width="4" height="1"/>
<rect x="85" y="280" width="4" height="1"/>
<rect x="85" y="266" width="4" height="1"/>
<rect x="85" y="252" width="4" height="1"/>
<rect x="85" y="226" width="4" height="1"/>
<rect x="85" y="212" width="4" height="1"/>
<rect x="85" y="198" width="4" height="1"/>
<rect x="85" y="184" width="4" height="1"/>
<rect x="85" y="156" width="4" height="1"/>
<rect x="85" y="142" width="4" height="1"/>
<rect x="85" y="128" width="4" height="1"/>
<rect x="312" y="384" width="1" height="10"/>
<rect x="544" y="384" width="1" height="10"/>
<rect x="776" y="384" width="1" height="10"/>
<rect x="1008" y="384" width="1" height="10"/>
<rect x="1240" y="384" width="1" height="10"/>
<rect x="1472" y="384" width="1" height="10"/>
<rect x="128" y="390" width="1" height="4"/>
<rect x="174" y="390" width="1" height="4"/>
<rect x="220" y="390" width="1" height="4"/>
<rect x="266" y="390" width="1" height="4"/>
<rect x="360" y="390" width="1" height="4"/>
<rect x="406" y="390" width="1" height="4"/>
<rect x="452" y="390" width="1" height="4"/>
<rect x="498" y="390" width="1" height="4"/>
<rect x="592" y="390" width="1" height="4"/>
<rect x="638" y="390" width="1" height="4"/>
<rect x="684" y="390" width="1" height="4"/>
<rect x="730" y="390" width="1" height="4"/>
<rect x="822" y="390" width="1" height="4"/>
<rect x="870" y="390" width="1" height="4"/>
<rect x="916" y="390" width="1" height="4"/>
<rect x="962" y="390" width="1" height="4"/>
<rect x="1054" y="390" width="1" height="4"/>
<rect x="1100" y="390" width="1" height="4"/>
<rect x="1148" y="390" width="1" height="4"/>
<rect x="1194" y="390" width="1" height="4"/>
<rect x="1286" y="390" width="1" height="4"/>
<rect x="1332" y="390" width="1" height="4"/>
<rect x="1380" y="390" width="1" height="4"/>
<rect x="1426" y="390" width="1" height="4"/>
<rect x="1518" y="390" width="1" height="4"/>
</g>
<mask id="tm" maskUnits="userSpaceOnUse" x="0" y="0" width="1564" height="478"><rect width="1564" height="478" fill="#fff"/></mask><g mask="url(#tm)">
<text stroke="#e8432a" stroke-width="0.3" x="19.57" y="45.80" font-size="36.5" fill="#e8432a" textLength="59.61" lengthAdjust="spacingAndGlyphs">exp</text>
<text stroke="#e8432a" stroke-width="0.3" x="77.29" y="45.70" font-size="36.5" fill="#e8432a" textLength="16.48" lengthAdjust="spacingAndGlyphs">-</text>
<text stroke="#e8432a" stroke-width="0.3" x="94.60" y="45.80" font-size="36.5" fill="#e8432a" textLength="93.37" lengthAdjust="spacingAndGlyphs">rmem</text>
<text stroke="#e8432a" stroke-width="0.3" x="186.91" y="45.70" font-size="36.5" fill="#e8432a" textLength="16.34" lengthAdjust="spacingAndGlyphs">-</text>
<text stroke="#e8432a" stroke-width="0.3" x="203.92" y="45.80" font-size="36.5" fill="#e8432a" textLength="87.37" lengthAdjust="spacingAndGlyphs">4096</text>
<text stroke="#e8432a" stroke-width="0.3" x="290.89" y="45.70" font-size="36.5" fill="#e8432a" textLength="16.48" lengthAdjust="spacingAndGlyphs">-</text>
<text stroke="#e8432a" stroke-width="0.3" x="307.96" y="45.80" font-size="36.5" fill="#e8432a" textLength="62.93" lengthAdjust="spacingAndGlyphs">loss</text>
<text stroke="#e8432a" stroke-width="0.3" x="370.58" y="45.70" font-size="36.5" fill="#e8432a" textLength="15.94" lengthAdjust="spacingAndGlyphs">-</text>
<text stroke="#e8432a" stroke-width="0.3" x="384.91" y="45.80" font-size="36.5" fill="#e8432a" textLength="15.49" lengthAdjust="spacingAndGlyphs">1</text>
<text stroke="#000" stroke-width="0.45" x="419.98" y="25.00" font-size="26" fill="#000" textLength="77.41" lengthAdjust="spacingAndGlyphs">Round</text>
<text stroke="#000" stroke-width="0.45" x="504.76" y="25.00" font-size="26" fill="#000" textLength="43.55" lengthAdjust="spacingAndGlyphs">Trip</text>
<text stroke="#000" stroke-width="0.45" x="555.98" y="25.00" font-size="26" fill="#000" textLength="57.85" lengthAdjust="spacingAndGlyphs">Time</text>
<text stroke="#000" stroke-width="0.45" x="622.50" y="25.00" font-size="26" fill="#000" textLength="31.61" lengthAdjust="spacingAndGlyphs">for</text>
<text stroke="#000" stroke-width="0.45" x="660.48" y="25.00" font-size="26" fill="#000" textLength="204.95" lengthAdjust="spacingAndGlyphs">172.31.82.1:8000</text>
<text stroke="#000" stroke-width="0" x="873.85" y="26.20" font-size="32" fill="#000" textLength="22.15" lengthAdjust="spacingAndGlyphs" style='font-family:"DejaVu Sans", "Liberation Sans", sans-serif'>→</text>
<text stroke="#000" stroke-width="0.45" x="902.44" y="25.00" font-size="26" fill="#000" textLength="238.19" lengthAdjust="spacingAndGlyphs">172.31.91.35:40850</text>
<text stroke="#000" stroke-width="0.45" x="715.19" y="74.50" font-size="26" fill="#000" textLength="131.70" lengthAdjust="spacingAndGlyphs">client.pcap</text>
<text stroke="#000" stroke-width="0.45" x="761.26" y="463.70" font-size="26" fill="#000" textLength="58.88" lengthAdjust="spacingAndGlyphs">Time</text>
<text stroke="#000" stroke-width="0.45" x="827.87" y="463.70" font-size="26" fill="#000" textLength="30.78" lengthAdjust="spacingAndGlyphs">(s)</text>
<text stroke="#000" stroke-width="0.45" x="298.14" y="425.00" font-size="26" fill="#000" textLength="28.37" lengthAdjust="spacingAndGlyphs">10</text>
<text stroke="#000" stroke-width="0.45" x="529.44" y="425.00" font-size="26" fill="#000" textLength="30.80" lengthAdjust="spacingAndGlyphs">20</text>
<text stroke="#000" stroke-width="0.45" x="759.93" y="425.00" font-size="26" fill="#000" textLength="31.06" lengthAdjust="spacingAndGlyphs">30</text>
<text stroke="#000" stroke-width="0.45" x="992.14" y="425.00" font-size="26" fill="#000" textLength="32.14" lengthAdjust="spacingAndGlyphs">40</text>
<text stroke="#000" stroke-width="0.45" x="1224.43" y="425.00" font-size="26" fill="#000" textLength="31.06" lengthAdjust="spacingAndGlyphs">50</text>
<text stroke="#000" stroke-width="0.45" x="1455.65" y="425.00" font-size="26" fill="#000" textLength="31.87" lengthAdjust="spacingAndGlyphs">60</text>
<text stroke="#224b8a" stroke-width="0.45" x="56.04" y="385.55" font-size="26" fill="#224b8a" textLength="15.36" lengthAdjust="spacingAndGlyphs">0</text>
<text stroke="#224b8a" stroke-width="0.45" x="59.50" y="316.80" font-size="26" fill="#224b8a" textLength="13.02" lengthAdjust="spacingAndGlyphs">1</text>
<text stroke="#224b8a" stroke-width="0.45" x="58.48" y="247.90" font-size="26" fill="#224b8a" textLength="14.83" lengthAdjust="spacingAndGlyphs">2</text>
<text stroke="#224b8a" stroke-width="0.45" x="58.33" y="178.50" font-size="26" fill="#224b8a" textLength="15.43" lengthAdjust="spacingAndGlyphs">3</text>
<text stroke="#224b8a" stroke-width="0.45" x="-1.99" y="0.00" font-size="26" fill="#224b8a" textLength="76.21" lengthAdjust="spacingAndGlyphs" transform="translate(27.8,383.4) rotate(-90)">Round</text>
<text stroke="#224b8a" stroke-width="0.45" x="81.91" y="0.00" font-size="26" fill="#224b8a" textLength="43.50" lengthAdjust="spacingAndGlyphs" transform="translate(27.8,383.4) rotate(-90)">Trip</text>
<text stroke="#224b8a" stroke-width="0.45" x="133.40" y="0.00" font-size="26" fill="#224b8a" textLength="56.71" lengthAdjust="spacingAndGlyphs" transform="translate(27.8,383.4) rotate(-90)">Time</text>
<text stroke="#224b8a" stroke-width="0.45" x="199.29" y="0.00" font-size="26" fill="#224b8a" textLength="52.31" lengthAdjust="spacingAndGlyphs" transform="translate(27.8,383.4) rotate(-90)">(ms)</text>
</g>
</svg></body></html>
